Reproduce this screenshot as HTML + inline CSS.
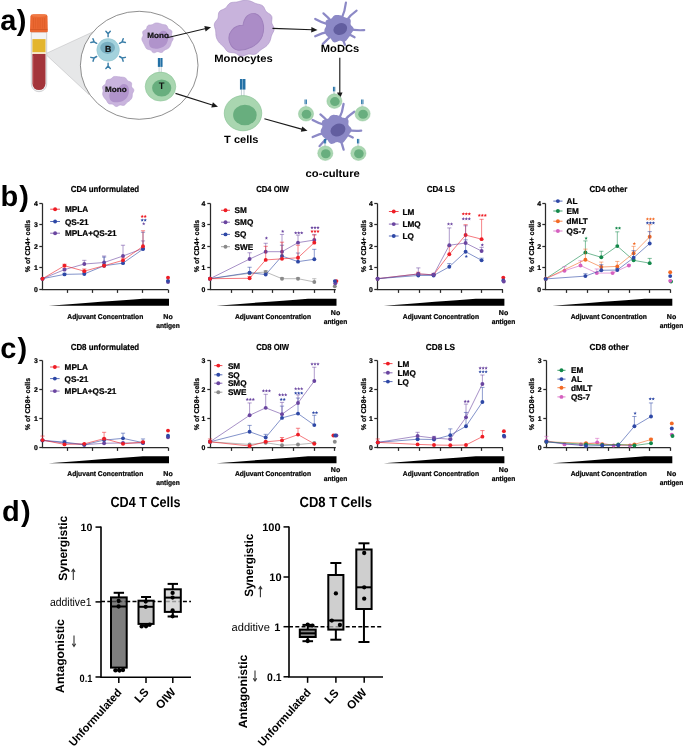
<!DOCTYPE html>
<html><head><meta charset="utf-8"><style>
html,body{margin:0;padding:0;background:#fff;}
svg{display:block;font-family:"Liberation Sans", sans-serif;text-rendering:geometricPrecision;will-change:transform;}
</style></head><body>
<svg width="685" height="746" viewBox="0 0 685 746">
<rect x="0" y="0" width="685" height="746" fill="#fff"/>
<text x="0.20" y="30.40" font-size="29" font-weight="bold" text-anchor="start" fill="#000" >a</text>
<text x="16.80" y="30.40" font-size="29" font-weight="bold" text-anchor="start" fill="#000" >)</text>
<text x="0.50" y="206.30" font-size="29" font-weight="bold" text-anchor="start" fill="#000" >b</text>
<text x="19.20" y="206.30" font-size="29" font-weight="bold" text-anchor="start" fill="#000" >)</text>
<text x="0.20" y="358.20" font-size="29" font-weight="bold" text-anchor="start" fill="#000" >c</text>
<text x="17.40" y="358.20" font-size="29" font-weight="bold" text-anchor="start" fill="#000" >)</text>
<text x="2.00" y="520.90" font-size="29" font-weight="bold" text-anchor="start" fill="#000" >d</text>
<text x="20.90" y="520.90" font-size="29" font-weight="bold" text-anchor="start" fill="#000" >)</text>
<path d="M94.6 31.1 L45.2 53.9 L88.8 94.4 Q78 62 94.6 31.1 Z" fill="#e6e7e8" stroke="#b8b9bb" stroke-width="0.5"/>
<path d="M31.3 32 V84 A7.7 7.7 0 0 0 46.7 84 V32 Z" fill="#f3f4f5" stroke="#c5c7c9" stroke-width="0.8"/>
<rect x="32.4" y="39.1" width="13.1" height="13.3" fill="#e3b52f"/>
<rect x="32.4" y="52.2" width="13.1" height="1.7" fill="#f6e4c4"/>
<path d="M32.4 53.9 V83.5 A6.55 6.55 0 0 0 45.5 83.5 V53.9 Z" fill="#a3343a"/>
<path d="M33.5 56 V84" stroke="#b9484d" stroke-width="0.8"/>
<path d="M30.4 16.4 Q30.6 14.4 33.0 14.3 H45.0 Q47.3 14.4 47.5 16.4 L47.8 31.2 Q47.8 32.3 46.5 32.3 H31.3 Q30.0 32.3 30.0 31.2 Z" fill="#ea6731"/>
<path d="M30.3 29.5 H47.5" stroke="#c9501f" stroke-width="0.6"/>
<path d="M33.5 18 V28.5" stroke="#d4541f" stroke-width="0.5" opacity="0.8"/>
<path d="M35.7 18 V28.5" stroke="#d4541f" stroke-width="0.5" opacity="0.8"/>
<path d="M37.9 18 V28.5" stroke="#d4541f" stroke-width="0.5" opacity="0.8"/>
<path d="M40.1 18 V28.5" stroke="#d4541f" stroke-width="0.5" opacity="0.8"/>
<path d="M42.3 18 V28.5" stroke="#d4541f" stroke-width="0.5" opacity="0.8"/>
<path d="M44.5 18 V28.5" stroke="#d4541f" stroke-width="0.5" opacity="0.8"/>
<ellipse cx="38.95" cy="15.6" rx="7.6" ry="1.3" fill="#f07a45"/>
<ellipse cx="139.2" cy="65.3" rx="58.8" ry="54.0" fill="#fff" stroke="#6a6a6a" stroke-width="0.75"/>
<g transform="translate(108.10 33.70) rotate(0)"><path d="M0 3.0 V0.0 M0 0.0 L-2.2 -2.5 M0 0.0 L2.2 -2.5" stroke="#3a7ea8" stroke-width="1.45" fill="none" stroke-linecap="round" stroke-linejoin="round"/></g>
<g transform="translate(122.13 41.80) rotate(60)"><path d="M0 3.0 V0.0 M0 0.0 L-2.2 -2.5 M0 0.0 L2.2 -2.5" stroke="#3a7ea8" stroke-width="1.45" fill="none" stroke-linecap="round" stroke-linejoin="round"/></g>
<g transform="translate(122.13 58.00) rotate(120)"><path d="M0 3.0 V0.0 M0 0.0 L-2.2 -2.5 M0 0.0 L2.2 -2.5" stroke="#3a7ea8" stroke-width="1.45" fill="none" stroke-linecap="round" stroke-linejoin="round"/></g>
<g transform="translate(108.10 66.10) rotate(180)"><path d="M0 3.0 V0.0 M0 0.0 L-2.2 -2.5 M0 0.0 L2.2 -2.5" stroke="#3a7ea8" stroke-width="1.45" fill="none" stroke-linecap="round" stroke-linejoin="round"/></g>
<g transform="translate(94.07 58.00) rotate(240)"><path d="M0 3.0 V0.0 M0 0.0 L-2.2 -2.5 M0 0.0 L2.2 -2.5" stroke="#3a7ea8" stroke-width="1.45" fill="none" stroke-linecap="round" stroke-linejoin="round"/></g>
<g transform="translate(94.07 41.80) rotate(300)"><path d="M0 3.0 V0.0 M0 0.0 L-2.2 -2.5 M0 0.0 L2.2 -2.5" stroke="#3a7ea8" stroke-width="1.45" fill="none" stroke-linecap="round" stroke-linejoin="round"/></g>
<circle cx="108.1" cy="49.9" r="11.3" fill="#a3d2dd" stroke="#8cc0cc" stroke-width="0.5"/>
<ellipse cx="107.6" cy="47.8" rx="7.4" ry="6.1" fill="#78aec0"/>
<text x="108.10" y="51.60" font-size="8.8" font-weight="bold" text-anchor="middle" fill="#111" stroke="#111" stroke-width="0.22" >B</text>
<path d="M173.02 37.80 L173.18 38.59 L173.06 39.38 L172.72 40.13 L172.28 40.84 L171.84 41.52 L171.49 42.20 L171.24 42.90 L171.03 43.63 L170.83 44.37 L170.57 45.10 L170.25 45.81 L169.86 46.49 L169.42 47.14 L168.91 47.75 L168.33 48.29 L167.66 48.74 L166.93 49.09 L166.16 49.38 L165.42 49.66 L164.75 50.02 L164.14 50.51 L163.57 51.10 L162.97 51.73 L162.29 52.25 L161.51 52.53 L160.66 52.53 L159.79 52.28 L158.95 51.94 L158.16 51.69 L157.40 51.65 L156.63 51.86 L155.82 52.23 L154.96 52.59 L154.09 52.75 L153.27 52.60 L152.55 52.14 L151.92 51.50 L151.36 50.82 L150.78 50.27 L150.12 49.90 L149.36 49.69 L148.52 49.53 L147.69 49.31 L146.94 48.95 L146.32 48.43 L145.85 47.79 L145.47 47.08 L145.13 46.35 L144.80 45.65 L144.45 44.98 L144.10 44.31 L143.74 43.64 L143.39 42.96 L143.04 42.28 L142.67 41.59 L142.31 40.88 L142.02 40.14 L141.85 39.37 L141.87 38.58 L142.09 37.80 L142.44 37.05 L142.79 36.33 L143.02 35.61 L143.05 34.87 L142.92 34.07 L142.72 33.22 L142.64 32.36 L142.81 31.57 L143.29 30.90 L144.02 30.39 L144.86 29.98 L145.63 29.59 L146.20 29.10 L146.58 28.44 L146.82 27.65 L147.07 26.79 L147.46 26.02 L148.05 25.44 L148.81 25.11 L149.69 24.98 L150.57 24.94 L151.40 24.86 L152.15 24.66 L152.84 24.33 L153.52 23.91 L154.23 23.49 L154.99 23.17 L155.78 22.99 L156.59 22.93 L157.40 22.98 L158.20 23.09 L158.99 23.25 L159.77 23.46 L160.52 23.71 L161.26 23.99 L161.99 24.25 L162.74 24.46 L163.52 24.59 L164.36 24.70 L165.20 24.84 L165.98 25.11 L166.65 25.58 L167.15 26.24 L167.51 27.02 L167.81 27.81 L168.17 28.49 L168.68 29.03 L169.39 29.44 L170.22 29.81 L171.02 30.25 L171.64 30.84 L171.95 31.58 L171.96 32.43 L171.78 33.32 L171.58 34.15 L171.54 34.91 L171.74 35.62 L172.15 36.31 L172.64 37.03 Z" fill="#c9b4dd" stroke="#b7a0d0" stroke-width="0.6"/>
<path d="M-0.95 0.35 C-1.0 -0.15 -0.55 -0.45 -0.1 -0.35 C0.05 -0.75 0.35 -0.95 0.65 -0.8 C1.0 -0.6 1.0 0.0 0.75 0.4 C0.45 0.85 -0.2 0.95 -0.6 0.85 C-0.85 0.75 -0.92 0.6 -0.95 0.35 Z" transform="translate(158.80 39.60) rotate(0) scale(10.300)" fill="#b093cb"/>
<text x="158.10" y="37.80" font-size="7.8" font-weight="bold" text-anchor="middle" fill="#111" textLength="21.60" lengthAdjust="spacingAndGlyphs" stroke="#111" stroke-width="0.22" >Mono</text>
<path d="M133.69 91.20 L133.32 91.98 L132.90 92.71 L132.56 93.43 L132.37 94.15 L132.30 94.91 L132.29 95.69 L132.23 96.48 L132.07 97.26 L131.79 97.99 L131.40 98.68 L130.93 99.32 L130.41 99.93 L129.84 100.48 L129.22 100.99 L128.57 101.44 L127.91 101.87 L127.28 102.32 L126.70 102.83 L126.17 103.42 L125.64 104.07 L125.06 104.68 L124.37 105.15 L123.57 105.39 L122.70 105.39 L121.81 105.22 L120.96 105.04 L120.18 104.99 L119.43 105.18 L118.69 105.58 L117.90 106.07 L117.07 106.45 L116.22 106.57 L115.40 106.35 L114.66 105.85 L113.99 105.22 L113.35 104.64 L112.68 104.25 L111.93 104.08 L111.08 104.05 L110.18 104.03 L109.32 103.89 L108.56 103.54 L107.96 102.98 L107.49 102.29 L107.10 101.56 L106.72 100.87 L106.29 100.23 L105.80 99.64 L105.28 99.07 L104.76 98.48 L104.27 97.86 L103.83 97.21 L103.43 96.53 L103.08 95.82 L102.81 95.08 L102.66 94.31 L102.66 93.52 L102.78 92.73 L102.97 91.95 L103.12 91.20 L103.14 90.46 L103.00 89.70 L102.75 88.90 L102.52 88.06 L102.46 87.23 L102.69 86.46 L103.22 85.79 L103.95 85.24 L104.70 84.74 L105.31 84.22 L105.70 83.60 L105.89 82.82 L105.99 81.94 L106.17 81.06 L106.55 80.31 L107.18 79.77 L108.00 79.47 L108.91 79.33 L109.79 79.21 L110.56 79.00 L111.23 78.62 L111.82 78.10 L112.43 77.52 L113.09 77.00 L113.83 76.62 L114.63 76.44 L115.46 76.41 L116.29 76.47 L117.10 76.57 L117.90 76.66 L118.69 76.75 L119.47 76.85 L120.25 76.95 L121.04 77.04 L121.83 77.12 L122.65 77.17 L123.48 77.25 L124.30 77.41 L125.06 77.71 L125.72 78.19 L126.27 78.83 L126.72 79.55 L127.16 80.22 L127.69 80.76 L128.36 81.16 L129.18 81.45 L130.05 81.76 L130.83 82.18 L131.39 82.79 L131.65 83.58 L131.66 84.47 L131.56 85.36 L131.53 86.18 L131.70 86.89 L132.13 87.54 L132.73 88.17 L133.32 88.85 L133.74 89.60 L133.86 90.40 Z" fill="#c9b4dd" stroke="#b7a0d0" stroke-width="0.6"/>
<path d="M-0.95 0.35 C-1.0 -0.15 -0.55 -0.45 -0.1 -0.35 C0.05 -0.75 0.35 -0.95 0.65 -0.8 C1.0 -0.6 1.0 0.0 0.75 0.4 C0.45 0.85 -0.2 0.95 -0.6 0.85 C-0.85 0.75 -0.92 0.6 -0.95 0.35 Z" transform="translate(119.30 93.00) rotate(0) scale(10.500)" fill="#b093cb"/>
<text x="115.80" y="92.00" font-size="7.8" font-weight="bold" text-anchor="middle" fill="#111" textLength="21.60" lengthAdjust="spacingAndGlyphs" stroke="#111" stroke-width="0.22" >Mono</text>
<path d="M159.10 73.10 V66.90 M161.30 73.10 V66.90" stroke="#8fa3ad" stroke-width="0.48" fill="none"/>
<rect x="157.85" y="58.00" width="2.20" height="8.90" fill="#2370a5"/>
<rect x="160.35" y="58.00" width="2.20" height="8.90" fill="#2370a5"/>
<ellipse cx="160.50" cy="86.60" rx="15.30" ry="14.50" fill="#a9d6b0" stroke="#86c193" stroke-width="0.54"/>
<ellipse cx="161.70" cy="88.00" rx="9.60" ry="8.60" fill="#68ae7e"/>
<text x="161.50" y="89.00" font-size="9.4" font-weight="bold" text-anchor="middle" fill="#111" >T</text>
<line x1="167.00" y1="37.80" x2="205.94" y2="28.51" stroke="#1a1a1a" stroke-width="1.15"/>
<path d="M211.00 27.30 L205.61 31.41 L204.33 26.06 Z" fill="#1a1a1a"/>
<line x1="175.50" y1="93.40" x2="213.04" y2="105.24" stroke="#1a1a1a" stroke-width="1.15"/>
<path d="M218.00 106.80 L211.26 107.56 L212.91 102.31 Z" fill="#1a1a1a"/>
<path d="M274.01 28.00 L274.11 29.48 L273.77 30.93 L273.13 32.31 L272.41 33.65 L271.78 34.96 L271.32 36.30 L270.98 37.68 L270.64 39.09 L270.21 40.48 L269.62 41.83 L268.88 43.10 L268.02 44.30 L267.03 45.43 L265.93 46.44 L264.72 47.35 L263.44 48.15 L262.15 48.91 L260.92 49.72 L259.78 50.66 L258.70 51.72 L257.57 52.80 L256.30 53.72 L254.86 54.29 L253.26 54.46 L251.62 54.32 L250.02 54.12 L248.51 54.11 L247.06 54.45 L245.61 55.09 L244.10 55.81 L242.52 56.27 L240.94 56.25 L239.42 55.71 L238.03 54.81 L236.71 53.87 L235.39 53.15 L233.96 52.78 L232.39 52.67 L230.75 52.59 L229.15 52.30 L227.73 51.65 L226.56 50.65 L225.60 49.43 L224.74 48.18 L223.84 47.01 L222.83 45.97 L221.72 45.00 L220.59 44.02 L219.53 42.97 L218.58 41.83 L217.77 40.59 L217.09 39.28 L216.55 37.92 L216.16 36.52 L215.93 35.08 L215.84 33.64 L215.78 32.21 L215.64 30.81 L215.34 29.41 L214.91 28.00 L214.47 26.54 L214.26 25.06 L214.46 23.59 L215.10 22.22 L216.05 20.95 L217.04 19.75 L217.80 18.53 L218.21 17.18 L218.34 15.68 L218.44 14.10 L218.80 12.58 L219.61 11.30 L220.87 10.35 L222.39 9.66 L223.92 9.06 L225.24 8.35 L226.30 7.37 L227.18 6.15 L228.08 4.85 L229.15 3.70 L230.46 2.87 L231.97 2.42 L233.57 2.25 L235.16 2.17 L236.68 2.03 L238.15 1.73 L239.60 1.31 L241.06 0.89 L242.57 0.54 L244.10 0.35 L245.65 0.31 L247.19 0.41 L248.72 0.65 L250.21 1.04 L251.65 1.57 L253.03 2.21 L254.38 2.88 L255.74 3.47 L257.17 3.92 L258.70 4.28 L260.26 4.65 L261.73 5.23 L262.99 6.11 L263.94 7.32 L264.64 8.73 L265.25 10.13 L265.99 11.36 L267.03 12.37 L268.35 13.22 L269.76 14.10 L270.98 15.15 L271.76 16.45 L272.01 17.95 L271.88 19.53 L271.67 21.07 L271.67 22.50 L272.04 23.85 L272.72 25.18 L273.48 26.56 Z" fill="#c8b3dc" stroke="#a88ec4" stroke-width="0.6"/>
<path d="M-0.95 0.35 C-1.0 -0.15 -0.55 -0.45 -0.1 -0.35 C0.05 -0.75 0.35 -0.95 0.65 -0.8 C1.0 -0.6 1.0 0.0 0.75 0.4 C0.45 0.85 -0.2 0.95 -0.6 0.85 C-0.85 0.75 -0.92 0.6 -0.95 0.35 Z" transform="translate(246.30 31.60) rotate(-12) scale(19.500)" fill="#ab8cc7" stroke="#9f80bc" stroke-width="0.05"/>
<text x="243.50" y="61.80" font-size="10.6" font-weight="bold" text-anchor="middle" fill="#000" textLength="58.60" lengthAdjust="spacingAndGlyphs" >Monocytes</text>
<line x1="272.50" y1="28.40" x2="312.30" y2="29.73" stroke="#1a1a1a" stroke-width="1.15"/>
<path d="M317.50 29.90 L311.21 32.44 L311.40 26.94 Z" fill="#1a1a1a"/>
<path d="M341.32 19.16 Q345.06 11.27 345.92 2.58" stroke="#8c89c6" stroke-width="2.2" stroke-linecap="round" fill="none"/>
<path d="M345.63 21.67 Q350.05 15.13 356.59 10.71" stroke="#8c89c6" stroke-width="2.2" stroke-linecap="round" fill="none"/>
<path d="M348.48 29.18 Q356.31 30.65 364.25 30.12" stroke="#8c89c6" stroke-width="2.2" stroke-linecap="round" fill="none"/>
<path d="M347.30 33.31 Q350.94 35.30 354.58 37.29" stroke="#8c89c6" stroke-width="2.2" stroke-linecap="round" fill="none"/>
<path d="M342.21 37.75 Q343.59 41.34 344.97 44.94" stroke="#8c89c6" stroke-width="2.2" stroke-linecap="round" fill="none"/>
<path d="M331.65 35.41 Q327.26 39.65 322.87 43.88" stroke="#8c89c6" stroke-width="2.2" stroke-linecap="round" fill="none"/>
<path d="M329.38 31.63 Q321.99 32.98 315.21 36.23" stroke="#8c89c6" stroke-width="2.2" stroke-linecap="round" fill="none"/>
<path d="M329.64 24.87 Q322.05 22.82 315.22 18.92" stroke="#8c89c6" stroke-width="2.2" stroke-linecap="round" fill="none"/>
<path d="M331.77 21.67 Q327.95 17.14 323.43 13.33" stroke="#8c89c6" stroke-width="2.2" stroke-linecap="round" fill="none"/>
<path d="M353.62 28.60 L353.66 29.34 L353.49 30.08 L353.16 30.78 L352.74 31.43 L352.28 32.06 L351.84 32.66 L351.45 33.25 L351.09 33.84 L350.76 34.44 L350.44 35.04 L350.09 35.63 L349.71 36.20 L349.29 36.75 L348.86 37.29 L348.43 37.84 L347.99 38.41 L347.57 39.00 L347.12 39.61 L346.64 40.22 L346.09 40.77 L345.46 41.21 L344.74 41.49 L343.95 41.60 L343.13 41.54 L342.29 41.34 L341.49 41.08 L340.74 40.85 L340.04 40.71 L339.37 40.73 L338.70 40.93 L338.00 41.27 L337.25 41.68 L336.45 42.08 L335.62 42.37 L334.79 42.46 L334.00 42.33 L333.30 41.97 L332.69 41.43 L332.17 40.77 L331.73 40.07 L331.31 39.41 L330.88 38.82 L330.40 38.33 L329.86 37.92 L329.27 37.56 L328.64 37.20 L328.02 36.82 L327.42 36.38 L326.89 35.89 L326.41 35.34 L325.99 34.75 L325.62 34.13 L325.27 33.50 L324.95 32.84 L324.68 32.17 L324.47 31.47 L324.38 30.76 L324.41 30.03 L324.58 29.30 L324.86 28.60 L325.21 27.93 L325.56 27.29 L325.85 26.67 L326.02 26.04 L326.05 25.38 L325.94 24.66 L325.76 23.88 L325.59 23.05 L325.50 22.21 L325.60 21.41 L325.90 20.71 L326.44 20.13 L327.15 19.72 L327.99 19.44 L328.87 19.26 L329.72 19.12 L330.47 18.95 L331.11 18.68 L331.66 18.30 L332.13 17.79 L332.59 17.21 L333.08 16.60 L333.62 16.03 L334.24 15.55 L334.92 15.20 L335.66 14.99 L336.42 14.90 L337.18 14.90 L337.95 14.96 L338.70 15.05 L339.44 15.16 L340.17 15.30 L340.89 15.48 L341.58 15.71 L342.25 16.00 L342.89 16.34 L343.51 16.71 L344.11 17.06 L344.73 17.36 L345.39 17.60 L346.11 17.77 L346.89 17.89 L347.72 18.02 L348.55 18.21 L349.31 18.52 L349.96 18.97 L350.43 19.58 L350.69 20.32 L350.78 21.15 L350.73 22.00 L350.63 22.82 L350.57 23.58 L350.63 24.25 L350.85 24.85 L351.25 25.40 L351.79 25.96 L352.38 26.54 L352.94 27.18 L353.37 27.87 Z" fill="#8c89c6"/>
<ellipse cx="340.30" cy="29.10" rx="7.10" ry="5.70" transform="rotate(-25 340.30 29.10)" fill="#625e9f"/>
<text x="340.00" y="52.00" font-size="10.6" font-weight="bold" text-anchor="middle" fill="#000" textLength="38.40" lengthAdjust="spacingAndGlyphs" >MoDCs</text>
<line x1="339.80" y1="57.80" x2="339.80" y2="93.60" stroke="#1a1a1a" stroke-width="1.15"/>
<path d="M339.80 98.80 L337.05 92.60 L342.55 92.60 Z" fill="#1a1a1a"/>
<path d="M241.40 96.60 V89.60 M244.00 96.60 V89.60" stroke="#8fa3ad" stroke-width="0.57" fill="none"/>
<rect x="239.95" y="79.00" width="2.60" height="10.60" fill="#2370a5"/>
<rect x="242.85" y="79.00" width="2.60" height="10.60" fill="#2370a5"/>
<ellipse cx="243.00" cy="113.20" rx="18.75" ry="17.60" fill="#a9d6b0" stroke="#86c193" stroke-width="0.66"/>
<ellipse cx="244.90" cy="115.00" rx="11.80" ry="10.30" fill="#68ae7e"/>
<text x="241.30" y="143.30" font-size="10.6" font-weight="bold" text-anchor="middle" fill="#000" textLength="34.40" lengthAdjust="spacingAndGlyphs" >T cells</text>
<line x1="264.40" y1="118.80" x2="302.49" y2="129.41" stroke="#1a1a1a" stroke-width="1.15"/>
<path d="M307.50 130.80 L300.79 131.79 L302.26 126.49 Z" fill="#1a1a1a"/>
<path d="M338.83 119.39 Q342.64 112.07 343.58 103.86" stroke="#8c89c6" stroke-width="2.3" stroke-linecap="round" fill="none"/>
<path d="M343.29 122.14 Q347.73 115.83 354.24 111.68" stroke="#8c89c6" stroke-width="2.3" stroke-linecap="round" fill="none"/>
<path d="M346.15 129.84 Q353.60 131.23 361.17 130.63" stroke="#8c89c6" stroke-width="2.3" stroke-linecap="round" fill="none"/>
<path d="M345.11 133.84 Q348.95 135.71 352.79 137.59" stroke="#8c89c6" stroke-width="2.3" stroke-linecap="round" fill="none"/>
<path d="M339.51 138.97 Q342.50 143.95 343.61 149.65" stroke="#8c89c6" stroke-width="2.3" stroke-linecap="round" fill="none"/>
<path d="M328.60 136.75 Q323.71 141.10 319.54 146.13" stroke="#8c89c6" stroke-width="2.3" stroke-linecap="round" fill="none"/>
<path d="M325.97 132.57 Q318.99 133.84 312.65 137.00" stroke="#8c89c6" stroke-width="2.3" stroke-linecap="round" fill="none"/>
<path d="M326.19 125.42 Q319.03 123.60 312.62 119.93" stroke="#8c89c6" stroke-width="2.3" stroke-linecap="round" fill="none"/>
<path d="M328.35 122.10 Q324.72 117.91 320.41 114.43" stroke="#8c89c6" stroke-width="2.3" stroke-linecap="round" fill="none"/>
<path d="M351.58 129.30 L351.61 130.09 L351.44 130.86 L351.09 131.60 L350.64 132.30 L350.16 132.96 L349.69 133.59 L349.27 134.21 L348.90 134.84 L348.55 135.47 L348.21 136.11 L347.84 136.73 L347.43 137.33 L347.00 137.91 L346.54 138.49 L346.08 139.07 L345.63 139.67 L345.17 140.30 L344.71 140.94 L344.20 141.58 L343.62 142.16 L342.95 142.63 L342.19 142.93 L341.35 143.05 L340.48 142.98 L339.60 142.77 L338.75 142.50 L337.96 142.25 L337.22 142.10 L336.51 142.13 L335.80 142.33 L335.06 142.69 L334.27 143.13 L333.42 143.55 L332.54 143.85 L331.67 143.95 L330.84 143.82 L330.09 143.44 L329.44 142.86 L328.90 142.16 L328.43 141.43 L327.99 140.73 L327.53 140.11 L327.03 139.59 L326.46 139.16 L325.83 138.77 L325.17 138.40 L324.51 137.99 L323.88 137.53 L323.31 137.00 L322.81 136.42 L322.37 135.80 L321.97 135.15 L321.60 134.48 L321.27 133.79 L320.98 133.07 L320.76 132.34 L320.66 131.58 L320.69 130.81 L320.87 130.04 L321.17 129.30 L321.54 128.59 L321.91 127.91 L322.22 127.26 L322.40 126.59 L322.42 125.89 L322.31 125.14 L322.12 124.31 L321.94 123.44 L321.85 122.55 L321.95 121.70 L322.27 120.95 L322.83 120.35 L323.59 119.91 L324.48 119.62 L325.41 119.43 L326.30 119.28 L327.10 119.10 L327.78 118.81 L328.35 118.41 L328.86 117.88 L329.34 117.26 L329.85 116.61 L330.43 116.01 L331.08 115.51 L331.81 115.14 L332.58 114.91 L333.39 114.82 L334.20 114.82 L335.00 114.88 L335.80 114.98 L336.58 115.10 L337.36 115.24 L338.11 115.43 L338.85 115.67 L339.56 115.98 L340.23 116.34 L340.88 116.73 L341.52 117.10 L342.17 117.42 L342.87 117.67 L343.63 117.85 L344.46 117.98 L345.33 118.12 L346.21 118.32 L347.02 118.64 L347.70 119.12 L348.20 119.76 L348.48 120.55 L348.57 121.42 L348.52 122.32 L348.41 123.19 L348.35 123.99 L348.41 124.70 L348.65 125.33 L349.07 125.92 L349.63 126.51 L350.26 127.12 L350.85 127.80 L351.31 128.53 Z" fill="#8c89c6"/>
<ellipse cx="338.00" cy="130.00" rx="7.70" ry="6.20" transform="rotate(-25 338.00 130.00)" fill="#625e9f"/>
<path d="M333.60 94.80 V91.40 M334.60 94.80 V91.40" stroke="#8fa3ad" stroke-width="0.35" fill="none"/>
<rect x="332.95" y="86.80" width="1.00" height="4.60" fill="#2370a5"/>
<rect x="334.25" y="86.80" width="1.00" height="4.60" fill="#2370a5"/>
<ellipse cx="334.40" cy="101.10" rx="7.60" ry="7.30" fill="#a9d6b0" stroke="#86c193" stroke-width="0.40"/>
<ellipse cx="334.90" cy="101.60" rx="4.80" ry="4.50" fill="#68ae7e"/>
<path d="M305.20 107.50 V104.10 M306.20 107.50 V104.10" stroke="#8fa3ad" stroke-width="0.35" fill="none"/>
<rect x="304.55" y="99.50" width="1.00" height="4.60" fill="#2370a5"/>
<rect x="305.85" y="99.50" width="1.00" height="4.60" fill="#2370a5"/>
<ellipse cx="306.00" cy="113.80" rx="7.60" ry="7.30" fill="#a9d6b0" stroke="#86c193" stroke-width="0.40"/>
<ellipse cx="306.50" cy="114.30" rx="4.80" ry="4.50" fill="#68ae7e"/>
<path d="M361.80 107.50 V104.10 M362.80 107.50 V104.10" stroke="#8fa3ad" stroke-width="0.35" fill="none"/>
<rect x="361.15" y="99.50" width="1.00" height="4.60" fill="#2370a5"/>
<rect x="362.45" y="99.50" width="1.00" height="4.60" fill="#2370a5"/>
<ellipse cx="362.60" cy="113.80" rx="7.60" ry="7.30" fill="#a9d6b0" stroke="#86c193" stroke-width="0.40"/>
<ellipse cx="363.10" cy="114.30" rx="4.80" ry="4.50" fill="#68ae7e"/>
<path d="M324.50 146.90 V143.50 M325.50 146.90 V143.50" stroke="#8fa3ad" stroke-width="0.35" fill="none"/>
<rect x="323.85" y="138.90" width="1.00" height="4.60" fill="#2370a5"/>
<rect x="325.15" y="138.90" width="1.00" height="4.60" fill="#2370a5"/>
<ellipse cx="325.30" cy="153.20" rx="7.60" ry="7.30" fill="#a9d6b0" stroke="#86c193" stroke-width="0.40"/>
<ellipse cx="325.80" cy="153.70" rx="4.80" ry="4.50" fill="#68ae7e"/>
<path d="M357.60 146.90 V143.50 M358.60 146.90 V143.50" stroke="#8fa3ad" stroke-width="0.35" fill="none"/>
<rect x="356.95" y="138.90" width="1.00" height="4.60" fill="#2370a5"/>
<rect x="358.25" y="138.90" width="1.00" height="4.60" fill="#2370a5"/>
<ellipse cx="358.40" cy="153.20" rx="7.60" ry="7.30" fill="#a9d6b0" stroke="#86c193" stroke-width="0.40"/>
<ellipse cx="358.90" cy="153.70" rx="4.80" ry="4.50" fill="#68ae7e"/>
<text x="332.70" y="177.30" font-size="10.6" font-weight="bold" text-anchor="middle" fill="#000" textLength="54.20" lengthAdjust="spacingAndGlyphs" >co-culture</text>
<text x="104.95" y="191.60" font-size="8.7" font-weight="bold" text-anchor="middle" fill="#000" textLength="68.50" lengthAdjust="spacingAndGlyphs" stroke="#000" stroke-width="0.22" >CD4 unformulated</text>
<text x="30.20" y="246.00" font-size="7.0" font-weight="bold" text-anchor="middle" fill="#000" textLength="52.30" lengthAdjust="spacingAndGlyphs" stroke="#000" stroke-width="0.22" transform="rotate(-90 30.20 246.00)" >% of CD4+ cells</text>
<path d="M42.50 203.50 V289.50 H168.00" fill="none" stroke="#2a2a2a" stroke-width="1.25"/>
<line x1="39.30" y1="289.50" x2="42.50" y2="289.50" stroke="#2a2a2a" stroke-width="1.25"/>
<text x="37.80" y="292.00" font-size="6.9" font-weight="bold" text-anchor="end" fill="#000" stroke="#000" stroke-width="0.22" >0</text>
<line x1="39.30" y1="267.50" x2="42.50" y2="267.50" stroke="#2a2a2a" stroke-width="1.25"/>
<text x="37.80" y="270.40" font-size="6.9" font-weight="bold" text-anchor="end" fill="#000" stroke="#000" stroke-width="0.22" >1</text>
<line x1="39.30" y1="246.50" x2="42.50" y2="246.50" stroke="#2a2a2a" stroke-width="1.25"/>
<text x="37.80" y="248.80" font-size="6.9" font-weight="bold" text-anchor="end" fill="#000" stroke="#000" stroke-width="0.22" >2</text>
<line x1="39.30" y1="224.50" x2="42.50" y2="224.50" stroke="#2a2a2a" stroke-width="1.25"/>
<text x="37.80" y="227.20" font-size="6.9" font-weight="bold" text-anchor="end" fill="#000" stroke="#000" stroke-width="0.22" >3</text>
<line x1="39.30" y1="203.50" x2="42.50" y2="203.50" stroke="#2a2a2a" stroke-width="1.25"/>
<text x="37.80" y="205.60" font-size="6.9" font-weight="bold" text-anchor="end" fill="#000" stroke="#000" stroke-width="0.22" >4</text>
<line x1="67.50" y1="289.50" x2="67.50" y2="292.90" stroke="#2a2a2a" stroke-width="1.25"/>
<line x1="92.50" y1="289.50" x2="92.50" y2="292.90" stroke="#2a2a2a" stroke-width="1.25"/>
<line x1="117.50" y1="289.50" x2="117.50" y2="292.90" stroke="#2a2a2a" stroke-width="1.25"/>
<line x1="142.50" y1="289.50" x2="142.50" y2="292.90" stroke="#2a2a2a" stroke-width="1.25"/>
<line x1="168.50" y1="289.50" x2="168.50" y2="292.90" stroke="#2a2a2a" stroke-width="1.25"/>
<path d="M48.70 305.70 Q105.75 301.50 142.80 298.80 H169.00 V305.70 Z" fill="#000"/>
<text x="105.30" y="318.70" font-size="7.0" font-weight="bold" text-anchor="middle" fill="#000" textLength="76.00" lengthAdjust="spacingAndGlyphs" stroke="#000" stroke-width="0.22" >Adjuvant Concentration</text>
<text x="168.00" y="318.80" font-size="7.0" font-weight="bold" text-anchor="middle" fill="#000" textLength="9.40" lengthAdjust="spacingAndGlyphs" stroke="#000" stroke-width="0.22" >No</text>
<text x="168.00" y="327.80" font-size="7.0" font-weight="bold" text-anchor="middle" fill="#000" textLength="23.50" lengthAdjust="spacingAndGlyphs" stroke="#000" stroke-width="0.22" >antigen</text>
<path d="M64.50 269.63 V268.55 M62.40 268.55 H66.60" stroke="#6a45a0" stroke-width="0.6" fill="none" opacity="0.9"/>
<path d="M84.30 264.01 V260.34 M82.20 260.34 H86.40" stroke="#6a45a0" stroke-width="0.6" fill="none" opacity="0.9"/>
<path d="M104.10 262.50 V256.02 M102.00 256.02 H106.20" stroke="#6a45a0" stroke-width="0.6" fill="none" opacity="0.9"/>
<path d="M123.00 256.02 V245.22 M120.90 245.22 H125.10" stroke="#6a45a0" stroke-width="0.6" fill="none" opacity="0.9"/>
<path d="M143.00 248.46 V240.90 M140.90 240.90 H145.10" stroke="#6a45a0" stroke-width="0.6" fill="none" opacity="0.9"/>
<polyline points="42.50,278.70 64.50,269.63 84.30,264.01 104.10,262.50 123.00,256.02 143.00,248.46" fill="none" stroke="#6a45a0" stroke-width="0.7" opacity="0.85"/>
<circle cx="42.50" cy="278.70" r="1.95" fill="#6a45a0"/>
<circle cx="64.50" cy="269.63" r="1.95" fill="#6a45a0"/>
<circle cx="84.30" cy="264.01" r="1.95" fill="#6a45a0"/>
<circle cx="104.10" cy="262.50" r="1.95" fill="#6a45a0"/>
<circle cx="123.00" cy="256.02" r="1.95" fill="#6a45a0"/>
<circle cx="143.00" cy="248.46" r="1.95" fill="#6a45a0"/>
<path d="M64.50 274.38 V273.30 M62.40 273.30 H66.60" stroke="#2e48a6" stroke-width="0.6" fill="none" opacity="0.9"/>
<path d="M84.30 273.95 V272.87 M82.20 272.87 H86.40" stroke="#2e48a6" stroke-width="0.6" fill="none" opacity="0.9"/>
<path d="M104.10 265.74 V257.10 M102.00 257.10 H106.20" stroke="#2e48a6" stroke-width="0.6" fill="none" opacity="0.9"/>
<path d="M123.00 263.15 V261.42 M120.90 261.42 H125.10" stroke="#2e48a6" stroke-width="0.6" fill="none" opacity="0.9"/>
<path d="M143.00 249.11 V232.26 M140.90 232.26 H145.10" stroke="#2e48a6" stroke-width="0.6" fill="none" opacity="0.9"/>
<polyline points="42.50,278.70 64.50,274.38 84.30,273.95 104.10,265.74 123.00,263.15 143.00,249.11" fill="none" stroke="#2e48a6" stroke-width="0.7" opacity="0.85"/>
<circle cx="42.50" cy="278.70" r="1.95" fill="#2e48a6"/>
<circle cx="64.50" cy="274.38" r="1.95" fill="#2e48a6"/>
<circle cx="84.30" cy="273.95" r="1.95" fill="#2e48a6"/>
<circle cx="104.10" cy="265.74" r="1.95" fill="#2e48a6"/>
<circle cx="123.00" cy="263.15" r="1.95" fill="#2e48a6"/>
<circle cx="143.00" cy="249.11" r="1.95" fill="#2e48a6"/>
<path d="M64.50 265.74 V264.23 M62.40 264.23 H66.60" stroke="#ee1d25" stroke-width="0.6" fill="none" opacity="0.9"/>
<path d="M84.30 271.14 V268.98 M82.20 268.98 H86.40" stroke="#ee1d25" stroke-width="0.6" fill="none" opacity="0.9"/>
<path d="M104.10 265.74 V264.66 M102.00 264.66 H106.20" stroke="#ee1d25" stroke-width="0.6" fill="none" opacity="0.9"/>
<path d="M123.00 260.34 V258.18 M120.90 258.18 H125.10" stroke="#ee1d25" stroke-width="0.6" fill="none" opacity="0.9"/>
<path d="M143.00 246.30 V230.75 M140.90 230.75 H145.10" stroke="#ee1d25" stroke-width="0.6" fill="none" opacity="0.9"/>
<polyline points="42.50,278.70 64.50,265.74 84.30,271.14 104.10,265.74 123.00,260.34 143.00,246.30" fill="none" stroke="#ee1d25" stroke-width="0.7" opacity="0.85"/>
<circle cx="42.50" cy="278.70" r="1.95" fill="#ee1d25"/>
<circle cx="64.50" cy="265.74" r="1.95" fill="#ee1d25"/>
<circle cx="84.30" cy="271.14" r="1.95" fill="#ee1d25"/>
<circle cx="104.10" cy="265.74" r="1.95" fill="#ee1d25"/>
<circle cx="123.00" cy="260.34" r="1.95" fill="#ee1d25"/>
<circle cx="143.00" cy="246.30" r="1.95" fill="#ee1d25"/>
<circle cx="168.00" cy="281.94" r="1.95" fill="#6a45a0"/>
<circle cx="168.00" cy="280.86" r="1.95" fill="#2e48a6"/>
<circle cx="168.00" cy="277.62" r="1.95" fill="#ee1d25"/>
<polygon points="142.20,214.74 142.66,215.85 143.86,215.95 142.95,216.74 143.23,217.91 142.20,217.28 141.17,217.91 141.45,216.74 140.54,215.95 141.74,215.85" fill="#ee1d25"/>
<polygon points="145.20,214.74 145.66,215.85 146.86,215.95 145.95,216.74 146.23,217.91 145.20,217.28 144.17,217.91 144.45,216.74 143.54,215.95 144.74,215.85" fill="#ee1d25"/>
<polygon points="142.20,218.41 142.66,219.53 143.86,219.62 142.95,220.41 143.23,221.58 142.20,220.95 141.17,221.58 141.45,220.41 140.54,219.62 141.74,219.53" fill="#2e48a6"/>
<polygon points="145.20,218.41 145.66,219.53 146.86,219.62 145.95,220.41 146.23,221.58 145.20,220.95 144.17,221.58 144.45,220.41 143.54,219.62 144.74,219.53" fill="#2e48a6"/>
<polygon points="143.70,222.09 144.16,223.20 145.36,223.30 144.45,224.08 144.73,225.25 143.70,224.62 142.67,225.25 142.95,224.08 142.04,223.30 143.24,223.20" fill="#6a45a0"/>
<line x1="50.20" y1="209.20" x2="60.00" y2="209.20" stroke="#ee1d25" stroke-width="0.8"/>
<circle cx="55.10" cy="209.20" r="1.95" fill="#ee1d25"/>
<text x="65.00" y="212.20" font-size="8.2" font-weight="bold" text-anchor="start" fill="#000" stroke="#000" stroke-width="0.22" >MPLA</text>
<line x1="50.20" y1="221.50" x2="60.00" y2="221.50" stroke="#2e48a6" stroke-width="0.8"/>
<circle cx="55.10" cy="221.50" r="1.95" fill="#2e48a6"/>
<text x="65.00" y="224.50" font-size="8.2" font-weight="bold" text-anchor="start" fill="#000" stroke="#000" stroke-width="0.22" >QS-21</text>
<line x1="50.20" y1="233.20" x2="60.00" y2="233.20" stroke="#6a45a0" stroke-width="0.8"/>
<circle cx="55.10" cy="233.20" r="1.95" fill="#6a45a0"/>
<text x="65.00" y="236.20" font-size="8.2" font-weight="bold" text-anchor="start" fill="#000" stroke="#000" stroke-width="0.22" >MPLA+QS-21</text>
<text x="272.60" y="191.60" font-size="8.7" font-weight="bold" text-anchor="middle" fill="#000" textLength="32.80" lengthAdjust="spacingAndGlyphs" stroke="#000" stroke-width="0.22" >CD4 OIW</text>
<text x="198.60" y="246.00" font-size="7.0" font-weight="bold" text-anchor="middle" fill="#000" textLength="52.30" lengthAdjust="spacingAndGlyphs" stroke="#000" stroke-width="0.22" transform="rotate(-90 198.60 246.00)" >% of CD4+ cells</text>
<path d="M210.50 203.50 V289.50 H335.80" fill="none" stroke="#2a2a2a" stroke-width="1.25"/>
<line x1="207.30" y1="289.50" x2="210.50" y2="289.50" stroke="#2a2a2a" stroke-width="1.25"/>
<text x="205.30" y="292.00" font-size="6.9" font-weight="bold" text-anchor="end" fill="#000" stroke="#000" stroke-width="0.22" >0</text>
<line x1="207.30" y1="267.50" x2="210.50" y2="267.50" stroke="#2a2a2a" stroke-width="1.25"/>
<text x="205.30" y="270.40" font-size="6.9" font-weight="bold" text-anchor="end" fill="#000" stroke="#000" stroke-width="0.22" >1</text>
<line x1="207.30" y1="246.50" x2="210.50" y2="246.50" stroke="#2a2a2a" stroke-width="1.25"/>
<text x="205.30" y="248.80" font-size="6.9" font-weight="bold" text-anchor="end" fill="#000" stroke="#000" stroke-width="0.22" >2</text>
<line x1="207.30" y1="224.50" x2="210.50" y2="224.50" stroke="#2a2a2a" stroke-width="1.25"/>
<text x="205.30" y="227.20" font-size="6.9" font-weight="bold" text-anchor="end" fill="#000" stroke="#000" stroke-width="0.22" >3</text>
<line x1="207.30" y1="203.50" x2="210.50" y2="203.50" stroke="#2a2a2a" stroke-width="1.25"/>
<text x="205.30" y="205.60" font-size="6.9" font-weight="bold" text-anchor="end" fill="#000" stroke="#000" stroke-width="0.22" >4</text>
<line x1="231.50" y1="289.50" x2="231.50" y2="292.90" stroke="#2a2a2a" stroke-width="1.25"/>
<line x1="252.50" y1="289.50" x2="252.50" y2="292.90" stroke="#2a2a2a" stroke-width="1.25"/>
<line x1="272.50" y1="289.50" x2="272.50" y2="292.90" stroke="#2a2a2a" stroke-width="1.25"/>
<line x1="293.50" y1="289.50" x2="293.50" y2="292.90" stroke="#2a2a2a" stroke-width="1.25"/>
<line x1="314.50" y1="289.50" x2="314.50" y2="292.90" stroke="#2a2a2a" stroke-width="1.25"/>
<line x1="334.50" y1="289.50" x2="334.50" y2="292.90" stroke="#2a2a2a" stroke-width="1.25"/>
<path d="M216.50 305.70 Q272.25 301.50 308.00 298.80 H336.50 V305.70 Z" fill="#000"/>
<text x="273.00" y="318.70" font-size="7.0" font-weight="bold" text-anchor="middle" fill="#000" textLength="76.20" lengthAdjust="spacingAndGlyphs" stroke="#000" stroke-width="0.22" >Adjuvant Concentration</text>
<text x="335.50" y="314.50" font-size="7.0" font-weight="bold" text-anchor="middle" fill="#000" textLength="9.40" lengthAdjust="spacingAndGlyphs" stroke="#000" stroke-width="0.22" >No</text>
<text x="335.50" y="323.50" font-size="7.0" font-weight="bold" text-anchor="middle" fill="#000" textLength="23.50" lengthAdjust="spacingAndGlyphs" stroke="#000" stroke-width="0.22" >antigen</text>
<path d="M249.60 273.30 V272.22 M247.50 272.22 H251.70" stroke="#8a8a8a" stroke-width="0.6" fill="none" opacity="0.9"/>
<path d="M265.70 272.00 V270.49 M263.60 270.49 H267.80" stroke="#8a8a8a" stroke-width="0.6" fill="none" opacity="0.9"/>
<path d="M282.00 278.70 V277.62 M279.90 277.62 H284.10" stroke="#8a8a8a" stroke-width="0.6" fill="none" opacity="0.9"/>
<path d="M298.00 278.70 V277.62 M295.90 277.62 H300.10" stroke="#8a8a8a" stroke-width="0.6" fill="none" opacity="0.9"/>
<path d="M314.30 281.94 V278.70 M312.20 278.70 H316.40" stroke="#8a8a8a" stroke-width="0.6" fill="none" opacity="0.9"/>
<polyline points="210.00,278.70 249.60,273.30 265.70,272.00 282.00,278.70 298.00,278.70 314.30,281.94" fill="none" stroke="#8a8a8a" stroke-width="0.7" opacity="0.85"/>
<circle cx="210.00" cy="278.70" r="1.95" fill="#8a8a8a"/>
<circle cx="249.60" cy="273.30" r="1.95" fill="#8a8a8a"/>
<circle cx="265.70" cy="272.00" r="1.95" fill="#8a8a8a"/>
<circle cx="282.00" cy="278.70" r="1.95" fill="#8a8a8a"/>
<circle cx="298.00" cy="278.70" r="1.95" fill="#8a8a8a"/>
<circle cx="314.30" cy="281.94" r="1.95" fill="#8a8a8a"/>
<path d="M249.60 272.65 V267.25 M247.50 267.25 H251.70" stroke="#2e48a6" stroke-width="0.6" fill="none" opacity="0.9"/>
<path d="M265.70 274.60 V273.30 M263.60 273.30 H267.80" stroke="#2e48a6" stroke-width="0.6" fill="none" opacity="0.9"/>
<path d="M282.00 256.02 V245.22 M279.90 245.22 H284.10" stroke="#2e48a6" stroke-width="0.6" fill="none" opacity="0.9"/>
<path d="M298.00 261.64 V253.00 M295.90 253.00 H300.10" stroke="#2e48a6" stroke-width="0.6" fill="none" opacity="0.9"/>
<path d="M314.30 259.26 V249.32 M312.20 249.32 H316.40" stroke="#2e48a6" stroke-width="0.6" fill="none" opacity="0.9"/>
<polyline points="210.00,278.70 249.60,272.65 265.70,274.60 282.00,256.02 298.00,261.64 314.30,259.26" fill="none" stroke="#2e48a6" stroke-width="0.7" opacity="0.85"/>
<circle cx="210.00" cy="278.70" r="1.95" fill="#2e48a6"/>
<circle cx="249.60" cy="272.65" r="1.95" fill="#2e48a6"/>
<circle cx="265.70" cy="274.60" r="1.95" fill="#2e48a6"/>
<circle cx="282.00" cy="256.02" r="1.95" fill="#2e48a6"/>
<circle cx="298.00" cy="261.64" r="1.95" fill="#2e48a6"/>
<circle cx="314.30" cy="259.26" r="1.95" fill="#2e48a6"/>
<path d="M249.60 259.04 V252.78 M247.50 252.78 H251.70" stroke="#6a45a0" stroke-width="0.6" fill="none" opacity="0.9"/>
<path d="M265.70 251.70 V243.28 M263.60 243.28 H267.80" stroke="#6a45a0" stroke-width="0.6" fill="none" opacity="0.9"/>
<path d="M282.00 251.70 V234.42 M279.90 234.42 H284.10" stroke="#6a45a0" stroke-width="0.6" fill="none" opacity="0.9"/>
<path d="M298.00 242.63 V235.07 M295.90 235.07 H300.10" stroke="#6a45a0" stroke-width="0.6" fill="none" opacity="0.9"/>
<path d="M314.30 240.04 V234.42 M312.20 234.42 H316.40" stroke="#6a45a0" stroke-width="0.6" fill="none" opacity="0.9"/>
<polyline points="210.00,278.70 249.60,259.04 265.70,251.70 282.00,251.70 298.00,242.63 314.30,240.04" fill="none" stroke="#6a45a0" stroke-width="0.7" opacity="0.85"/>
<circle cx="210.00" cy="278.70" r="1.95" fill="#6a45a0"/>
<circle cx="249.60" cy="259.04" r="1.95" fill="#6a45a0"/>
<circle cx="265.70" cy="251.70" r="1.95" fill="#6a45a0"/>
<circle cx="282.00" cy="251.70" r="1.95" fill="#6a45a0"/>
<circle cx="298.00" cy="242.63" r="1.95" fill="#6a45a0"/>
<circle cx="314.30" cy="240.04" r="1.95" fill="#6a45a0"/>
<path d="M249.60 278.27 V276.54 M247.50 276.54 H251.70" stroke="#ee1d25" stroke-width="0.6" fill="none" opacity="0.9"/>
<path d="M265.70 259.91 V246.30 M263.60 246.30 H267.80" stroke="#ee1d25" stroke-width="0.6" fill="none" opacity="0.9"/>
<path d="M282.00 258.83 V242.20 M279.90 242.20 H284.10" stroke="#ee1d25" stroke-width="0.6" fill="none" opacity="0.9"/>
<path d="M298.00 257.75 V245.22 M295.90 245.22 H300.10" stroke="#ee1d25" stroke-width="0.6" fill="none" opacity="0.9"/>
<path d="M314.30 242.63 V235.07 M312.20 235.07 H316.40" stroke="#ee1d25" stroke-width="0.6" fill="none" opacity="0.9"/>
<polyline points="210.00,278.70 249.60,278.27 265.70,259.91 282.00,258.83 298.00,257.75 314.30,242.63" fill="none" stroke="#ee1d25" stroke-width="0.7" opacity="0.85"/>
<circle cx="210.00" cy="278.70" r="1.95" fill="#ee1d25"/>
<circle cx="249.60" cy="278.27" r="1.95" fill="#ee1d25"/>
<circle cx="265.70" cy="259.91" r="1.95" fill="#ee1d25"/>
<circle cx="282.00" cy="258.83" r="1.95" fill="#ee1d25"/>
<circle cx="298.00" cy="257.75" r="1.95" fill="#ee1d25"/>
<circle cx="314.30" cy="242.63" r="1.95" fill="#ee1d25"/>
<circle cx="334.80" cy="286.26" r="1.95" fill="#8a8a8a"/>
<circle cx="336.40" cy="281.08" r="1.95" fill="#ee1d25"/>
<circle cx="335.30" cy="283.24" r="1.95" fill="#6a45a0"/>
<circle cx="334.90" cy="281.08" r="1.95" fill="#2e48a6"/>
<polygon points="266.40,236.34 266.86,237.45 268.06,237.55 267.15,238.34 267.43,239.51 266.40,238.88 265.37,239.51 265.65,238.34 264.74,237.55 265.94,237.45" fill="#6a45a0"/>
<polygon points="282.70,229.65 283.16,230.76 284.36,230.86 283.45,231.64 283.73,232.81 282.70,232.18 281.67,232.81 281.95,231.64 281.04,230.86 282.24,230.76" fill="#6a45a0"/>
<polygon points="295.70,231.16 296.16,232.27 297.36,232.37 296.45,233.15 296.73,234.32 295.70,233.70 294.67,234.32 294.95,233.15 294.04,232.37 295.24,232.27" fill="#6a45a0"/>
<polygon points="298.70,231.16 299.16,232.27 300.36,232.37 299.45,233.15 299.73,234.32 298.70,233.70 297.67,234.32 297.95,233.15 297.04,232.37 298.24,232.27" fill="#6a45a0"/>
<polygon points="301.70,231.16 302.16,232.27 303.36,232.37 302.45,233.15 302.73,234.32 301.70,233.70 300.67,234.32 300.95,233.15 300.04,232.37 301.24,232.27" fill="#6a45a0"/>
<polygon points="312.00,225.97 312.46,227.09 313.66,227.18 312.75,227.97 313.03,229.14 312.00,228.51 310.97,229.14 311.25,227.97 310.34,227.18 311.54,227.09" fill="#6a45a0"/>
<polygon points="315.00,225.97 315.46,227.09 316.66,227.18 315.75,227.97 316.03,229.14 315.00,228.51 313.97,229.14 314.25,227.97 313.34,227.18 314.54,227.09" fill="#6a45a0"/>
<polygon points="318.00,225.97 318.46,227.09 319.66,227.18 318.75,227.97 319.03,229.14 318.00,228.51 316.97,229.14 317.25,227.97 316.34,227.18 317.54,227.09" fill="#6a45a0"/>
<polygon points="312.00,229.65 312.46,230.76 313.66,230.86 312.75,231.64 313.03,232.81 312.00,232.18 310.97,232.81 311.25,231.64 310.34,230.86 311.54,230.76" fill="#ee1d25"/>
<polygon points="315.00,229.65 315.46,230.76 316.66,230.86 315.75,231.64 316.03,232.81 315.00,232.18 313.97,232.81 314.25,231.64 313.34,230.86 314.54,230.76" fill="#ee1d25"/>
<polygon points="318.00,229.65 318.46,230.76 319.66,230.86 318.75,231.64 319.03,232.81 318.00,232.18 316.97,232.81 317.25,231.64 316.34,230.86 317.54,230.76" fill="#ee1d25"/>
<line x1="221.00" y1="210.30" x2="230.00" y2="210.30" stroke="#ee1d25" stroke-width="0.8"/>
<circle cx="225.50" cy="210.30" r="1.95" fill="#ee1d25"/>
<text x="234.60" y="213.30" font-size="8.2" font-weight="bold" text-anchor="start" fill="#000" stroke="#000" stroke-width="0.22" >SM</text>
<line x1="221.00" y1="222.20" x2="230.00" y2="222.20" stroke="#6a45a0" stroke-width="0.8"/>
<circle cx="225.50" cy="222.20" r="1.95" fill="#6a45a0"/>
<text x="234.60" y="225.20" font-size="8.2" font-weight="bold" text-anchor="start" fill="#000" stroke="#000" stroke-width="0.22" >SMQ</text>
<line x1="221.00" y1="234.40" x2="230.00" y2="234.40" stroke="#2e48a6" stroke-width="0.8"/>
<circle cx="225.50" cy="234.40" r="1.95" fill="#2e48a6"/>
<text x="234.60" y="237.40" font-size="8.2" font-weight="bold" text-anchor="start" fill="#000" stroke="#000" stroke-width="0.22" >SQ</text>
<line x1="221.00" y1="246.70" x2="230.00" y2="246.70" stroke="#8a8a8a" stroke-width="0.8"/>
<circle cx="225.50" cy="246.70" r="1.95" fill="#8a8a8a"/>
<text x="234.60" y="249.70" font-size="8.2" font-weight="bold" text-anchor="start" fill="#000" stroke="#000" stroke-width="0.22" >SWE</text>
<text x="440.90" y="191.60" font-size="8.7" font-weight="bold" text-anchor="middle" fill="#000" textLength="28.40" lengthAdjust="spacingAndGlyphs" stroke="#000" stroke-width="0.22" >CD4 LS</text>
<text x="365.90" y="246.00" font-size="7.0" font-weight="bold" text-anchor="middle" fill="#000" textLength="52.30" lengthAdjust="spacingAndGlyphs" stroke="#000" stroke-width="0.22" transform="rotate(-90 365.90 246.00)" >% of CD4+ cells</text>
<path d="M377.50 203.50 V289.50 H503.00" fill="none" stroke="#2a2a2a" stroke-width="1.25"/>
<line x1="374.30" y1="289.50" x2="377.50" y2="289.50" stroke="#2a2a2a" stroke-width="1.25"/>
<text x="372.90" y="292.00" font-size="6.9" font-weight="bold" text-anchor="end" fill="#000" stroke="#000" stroke-width="0.22" >0</text>
<line x1="374.30" y1="267.50" x2="377.50" y2="267.50" stroke="#2a2a2a" stroke-width="1.25"/>
<text x="372.90" y="270.40" font-size="6.9" font-weight="bold" text-anchor="end" fill="#000" stroke="#000" stroke-width="0.22" >1</text>
<line x1="374.30" y1="246.50" x2="377.50" y2="246.50" stroke="#2a2a2a" stroke-width="1.25"/>
<text x="372.90" y="248.80" font-size="6.9" font-weight="bold" text-anchor="end" fill="#000" stroke="#000" stroke-width="0.22" >2</text>
<line x1="374.30" y1="224.50" x2="377.50" y2="224.50" stroke="#2a2a2a" stroke-width="1.25"/>
<text x="372.90" y="227.20" font-size="6.9" font-weight="bold" text-anchor="end" fill="#000" stroke="#000" stroke-width="0.22" >3</text>
<line x1="374.30" y1="203.50" x2="377.50" y2="203.50" stroke="#2a2a2a" stroke-width="1.25"/>
<text x="372.90" y="205.60" font-size="6.9" font-weight="bold" text-anchor="end" fill="#000" stroke="#000" stroke-width="0.22" >4</text>
<line x1="398.50" y1="289.50" x2="398.50" y2="292.90" stroke="#2a2a2a" stroke-width="1.25"/>
<line x1="419.50" y1="289.50" x2="419.50" y2="292.90" stroke="#2a2a2a" stroke-width="1.25"/>
<line x1="440.50" y1="289.50" x2="440.50" y2="292.90" stroke="#2a2a2a" stroke-width="1.25"/>
<line x1="461.50" y1="289.50" x2="461.50" y2="292.90" stroke="#2a2a2a" stroke-width="1.25"/>
<line x1="481.50" y1="289.50" x2="481.50" y2="292.90" stroke="#2a2a2a" stroke-width="1.25"/>
<line x1="502.50" y1="289.50" x2="502.50" y2="292.90" stroke="#2a2a2a" stroke-width="1.25"/>
<path d="M383.80 305.70 Q439.80 301.50 475.80 298.80 H504.40 V305.70 Z" fill="#000"/>
<text x="440.90" y="318.70" font-size="7.0" font-weight="bold" text-anchor="middle" fill="#000" textLength="76.20" lengthAdjust="spacingAndGlyphs" stroke="#000" stroke-width="0.22" >Adjuvant Concentration</text>
<text x="503.50" y="314.50" font-size="7.0" font-weight="bold" text-anchor="middle" fill="#000" textLength="9.40" lengthAdjust="spacingAndGlyphs" stroke="#000" stroke-width="0.22" >No</text>
<text x="503.50" y="323.50" font-size="7.0" font-weight="bold" text-anchor="middle" fill="#000" textLength="23.50" lengthAdjust="spacingAndGlyphs" stroke="#000" stroke-width="0.22" >antigen</text>
<path d="M418.30 273.95 V272.22 M416.20 272.22 H420.40" stroke="#ee1d25" stroke-width="0.6" fill="none" opacity="0.9"/>
<path d="M433.60 274.81 V273.95 M431.50 273.95 H435.70" stroke="#ee1d25" stroke-width="0.6" fill="none" opacity="0.9"/>
<path d="M449.30 254.29 V246.30 M447.20 246.30 H451.40" stroke="#ee1d25" stroke-width="0.6" fill="none" opacity="0.9"/>
<path d="M465.60 235.07 V224.70 M463.50 224.70 H467.70" stroke="#ee1d25" stroke-width="0.6" fill="none" opacity="0.9"/>
<path d="M481.60 239.17 V219.30 M479.50 219.30 H483.70" stroke="#ee1d25" stroke-width="0.6" fill="none" opacity="0.9"/>
<polyline points="377.60,278.70 418.30,273.95 433.60,274.81 449.30,254.29 465.60,235.07 481.60,239.17" fill="none" stroke="#ee1d25" stroke-width="0.7" opacity="0.85"/>
<circle cx="377.60" cy="278.70" r="1.95" fill="#ee1d25"/>
<circle cx="418.30" cy="273.95" r="1.95" fill="#ee1d25"/>
<circle cx="433.60" cy="274.81" r="1.95" fill="#ee1d25"/>
<circle cx="449.30" cy="254.29" r="1.95" fill="#ee1d25"/>
<circle cx="465.60" cy="235.07" r="1.95" fill="#ee1d25"/>
<circle cx="481.60" cy="239.17" r="1.95" fill="#ee1d25"/>
<path d="M418.30 275.46 V274.38 M416.20 274.38 H420.40" stroke="#2e48a6" stroke-width="0.6" fill="none" opacity="0.9"/>
<path d="M433.60 275.46 V274.38 M431.50 274.38 H435.70" stroke="#2e48a6" stroke-width="0.6" fill="none" opacity="0.9"/>
<path d="M449.30 266.82 V263.58 M447.20 263.58 H451.40" stroke="#2e48a6" stroke-width="0.6" fill="none" opacity="0.9"/>
<path d="M465.60 251.70 V239.82 M463.50 239.82 H467.70" stroke="#2e48a6" stroke-width="0.6" fill="none" opacity="0.9"/>
<path d="M481.60 260.34 V258.18 M479.50 258.18 H483.70" stroke="#2e48a6" stroke-width="0.6" fill="none" opacity="0.9"/>
<polyline points="377.60,278.70 418.30,275.46 433.60,275.46 449.30,266.82 465.60,251.70 481.60,260.34" fill="none" stroke="#2e48a6" stroke-width="0.7" opacity="0.85"/>
<circle cx="377.60" cy="278.70" r="1.95" fill="#2e48a6"/>
<circle cx="418.30" cy="275.46" r="1.95" fill="#2e48a6"/>
<circle cx="433.60" cy="275.46" r="1.95" fill="#2e48a6"/>
<circle cx="449.30" cy="266.82" r="1.95" fill="#2e48a6"/>
<circle cx="465.60" cy="251.70" r="1.95" fill="#2e48a6"/>
<circle cx="481.60" cy="260.34" r="1.95" fill="#2e48a6"/>
<path d="M418.30 273.95 V267.90 M416.20 267.90 H420.40" stroke="#6a45a0" stroke-width="0.6" fill="none" opacity="0.9"/>
<path d="M433.60 274.81 V273.30 M431.50 273.30 H435.70" stroke="#6a45a0" stroke-width="0.6" fill="none" opacity="0.9"/>
<path d="M449.30 245.22 V227.94 M447.20 227.94 H451.40" stroke="#6a45a0" stroke-width="0.6" fill="none" opacity="0.9"/>
<path d="M465.60 243.06 V225.78 M463.50 225.78 H467.70" stroke="#6a45a0" stroke-width="0.6" fill="none" opacity="0.9"/>
<path d="M481.60 251.05 V247.38 M479.50 247.38 H483.70" stroke="#6a45a0" stroke-width="0.6" fill="none" opacity="0.9"/>
<polyline points="377.60,278.70 418.30,273.95 433.60,274.81 449.30,245.22 465.60,243.06 481.60,251.05" fill="none" stroke="#6a45a0" stroke-width="0.7" opacity="0.85"/>
<circle cx="377.60" cy="278.70" r="1.95" fill="#6a45a0"/>
<circle cx="418.30" cy="273.95" r="1.95" fill="#6a45a0"/>
<circle cx="433.60" cy="274.81" r="1.95" fill="#6a45a0"/>
<circle cx="449.30" cy="245.22" r="1.95" fill="#6a45a0"/>
<circle cx="465.60" cy="243.06" r="1.95" fill="#6a45a0"/>
<circle cx="481.60" cy="251.05" r="1.95" fill="#6a45a0"/>
<circle cx="503.30" cy="277.62" r="1.95" fill="#ee1d25"/>
<circle cx="503.30" cy="280.43" r="1.95" fill="#2e48a6"/>
<circle cx="503.80" cy="281.51" r="1.95" fill="#6a45a0"/>
<polygon points="448.50,222.30 448.96,223.41 450.16,223.51 449.25,224.30 449.53,225.47 448.50,224.84 447.47,225.47 447.75,224.30 446.84,223.51 448.04,223.41" fill="#6a45a0"/>
<polygon points="451.50,222.30 451.96,223.41 453.16,223.51 452.25,224.30 452.53,225.47 451.50,224.84 450.47,225.47 450.75,224.30 449.84,223.51 451.04,223.41" fill="#6a45a0"/>
<polygon points="463.30,212.15 463.76,213.26 464.96,213.36 464.05,214.14 464.33,215.32 463.30,214.69 462.27,215.32 462.55,214.14 461.64,213.36 462.84,213.26" fill="#ee1d25"/>
<polygon points="466.30,212.15 466.76,213.26 467.96,213.36 467.05,214.14 467.33,215.32 466.30,214.69 465.27,215.32 465.55,214.14 464.64,213.36 465.84,213.26" fill="#ee1d25"/>
<polygon points="469.30,212.15 469.76,213.26 470.96,213.36 470.05,214.14 470.33,215.32 469.30,214.69 468.27,215.32 468.55,214.14 467.64,213.36 468.84,213.26" fill="#ee1d25"/>
<polygon points="463.30,217.12 463.76,218.23 464.96,218.33 464.05,219.11 464.33,220.28 463.30,219.66 462.27,220.28 462.55,219.11 461.64,218.33 462.84,218.23" fill="#6a45a0"/>
<polygon points="466.30,217.12 466.76,218.23 467.96,218.33 467.05,219.11 467.33,220.28 466.30,219.66 465.27,220.28 465.55,219.11 464.64,218.33 465.84,218.23" fill="#6a45a0"/>
<polygon points="469.30,217.12 469.76,218.23 470.96,218.33 470.05,219.11 470.33,220.28 469.30,219.66 468.27,220.28 468.55,219.11 467.64,218.33 468.84,218.23" fill="#6a45a0"/>
<polygon points="466.30,254.70 466.76,255.81 467.96,255.91 467.05,256.70 467.33,257.87 466.30,257.24 465.27,257.87 465.55,256.70 464.64,255.91 465.84,255.81" fill="#2e48a6"/>
<polygon points="479.30,213.66 479.76,214.77 480.96,214.87 480.05,215.66 480.33,216.83 479.30,216.20 478.27,216.83 478.55,215.66 477.64,214.87 478.84,214.77" fill="#ee1d25"/>
<polygon points="482.30,213.66 482.76,214.77 483.96,214.87 483.05,215.66 483.33,216.83 482.30,216.20 481.27,216.83 481.55,215.66 480.64,214.87 481.84,214.77" fill="#ee1d25"/>
<polygon points="485.30,213.66 485.76,214.77 486.96,214.87 486.05,215.66 486.33,216.83 485.30,216.20 484.27,216.83 484.55,215.66 483.64,214.87 484.84,214.77" fill="#ee1d25"/>
<polygon points="482.30,243.25 482.76,244.37 483.96,244.46 483.05,245.25 483.33,246.42 482.30,245.79 481.27,246.42 481.55,245.25 480.64,244.46 481.84,244.37" fill="#6a45a0"/>
<line x1="388.90" y1="211.50" x2="398.60" y2="211.50" stroke="#ee1d25" stroke-width="0.8"/>
<circle cx="393.75" cy="211.50" r="1.95" fill="#ee1d25"/>
<text x="402.50" y="214.50" font-size="8.2" font-weight="bold" text-anchor="start" fill="#000" stroke="#000" stroke-width="0.22" >LM</text>
<line x1="388.90" y1="224.10" x2="398.60" y2="224.10" stroke="#6a45a0" stroke-width="0.8"/>
<circle cx="393.75" cy="224.10" r="1.95" fill="#6a45a0"/>
<text x="402.50" y="227.10" font-size="8.2" font-weight="bold" text-anchor="start" fill="#000" stroke="#000" stroke-width="0.22" >LMQ</text>
<line x1="388.90" y1="236.00" x2="398.60" y2="236.00" stroke="#2e48a6" stroke-width="0.8"/>
<circle cx="393.75" cy="236.00" r="1.95" fill="#2e48a6"/>
<text x="402.50" y="239.00" font-size="8.2" font-weight="bold" text-anchor="start" fill="#000" stroke="#000" stroke-width="0.22" >LQ</text>
<text x="608.40" y="191.60" font-size="8.7" font-weight="bold" text-anchor="middle" fill="#000" textLength="37.60" lengthAdjust="spacingAndGlyphs" stroke="#000" stroke-width="0.22" >CD4 other</text>
<text x="534.00" y="246.00" font-size="7.0" font-weight="bold" text-anchor="middle" fill="#000" textLength="52.30" lengthAdjust="spacingAndGlyphs" stroke="#000" stroke-width="0.22" transform="rotate(-90 534.00 246.00)" >% of CD4+ cells</text>
<path d="M545.50 203.50 V289.50 H670.50" fill="none" stroke="#2a2a2a" stroke-width="1.25"/>
<line x1="542.30" y1="289.50" x2="545.50" y2="289.50" stroke="#2a2a2a" stroke-width="1.25"/>
<text x="541.00" y="292.00" font-size="6.9" font-weight="bold" text-anchor="end" fill="#000" stroke="#000" stroke-width="0.22" >0</text>
<line x1="542.30" y1="267.50" x2="545.50" y2="267.50" stroke="#2a2a2a" stroke-width="1.25"/>
<text x="541.00" y="270.40" font-size="6.9" font-weight="bold" text-anchor="end" fill="#000" stroke="#000" stroke-width="0.22" >1</text>
<line x1="542.30" y1="246.50" x2="545.50" y2="246.50" stroke="#2a2a2a" stroke-width="1.25"/>
<text x="541.00" y="248.80" font-size="6.9" font-weight="bold" text-anchor="end" fill="#000" stroke="#000" stroke-width="0.22" >2</text>
<line x1="542.30" y1="224.50" x2="545.50" y2="224.50" stroke="#2a2a2a" stroke-width="1.25"/>
<text x="541.00" y="227.20" font-size="6.9" font-weight="bold" text-anchor="end" fill="#000" stroke="#000" stroke-width="0.22" >3</text>
<line x1="542.30" y1="203.50" x2="545.50" y2="203.50" stroke="#2a2a2a" stroke-width="1.25"/>
<text x="541.00" y="205.60" font-size="6.9" font-weight="bold" text-anchor="end" fill="#000" stroke="#000" stroke-width="0.22" >4</text>
<line x1="566.50" y1="289.50" x2="566.50" y2="292.90" stroke="#2a2a2a" stroke-width="1.25"/>
<line x1="587.50" y1="289.50" x2="587.50" y2="292.90" stroke="#2a2a2a" stroke-width="1.25"/>
<line x1="608.50" y1="289.50" x2="608.50" y2="292.90" stroke="#2a2a2a" stroke-width="1.25"/>
<line x1="629.50" y1="289.50" x2="629.50" y2="292.90" stroke="#2a2a2a" stroke-width="1.25"/>
<line x1="649.50" y1="289.50" x2="649.50" y2="292.90" stroke="#2a2a2a" stroke-width="1.25"/>
<line x1="670.50" y1="289.50" x2="670.50" y2="292.90" stroke="#2a2a2a" stroke-width="1.25"/>
<path d="M552.30 305.70 Q608.55 301.50 644.80 298.80 H672.30 V305.70 Z" fill="#000"/>
<text x="608.80" y="318.70" font-size="7.0" font-weight="bold" text-anchor="middle" fill="#000" textLength="76.20" lengthAdjust="spacingAndGlyphs" stroke="#000" stroke-width="0.22" >Adjuvant Concentration</text>
<text x="671.50" y="318.80" font-size="7.0" font-weight="bold" text-anchor="middle" fill="#000" textLength="9.40" lengthAdjust="spacingAndGlyphs" stroke="#000" stroke-width="0.22" >No</text>
<text x="671.50" y="327.80" font-size="7.0" font-weight="bold" text-anchor="middle" fill="#000" textLength="23.50" lengthAdjust="spacingAndGlyphs" stroke="#000" stroke-width="0.22" >antigen</text>
<path d="M585.40 252.56 V240.90 M583.30 240.90 H587.50" stroke="#12884a" stroke-width="0.6" fill="none" opacity="0.9"/>
<path d="M601.30 257.32 V251.27 M599.20 251.27 H603.40" stroke="#12884a" stroke-width="0.6" fill="none" opacity="0.9"/>
<path d="M617.30 246.08 V231.83 M615.20 231.83 H619.40" stroke="#12884a" stroke-width="0.6" fill="none" opacity="0.9"/>
<path d="M633.60 260.34 V259.26 M631.50 259.26 H635.70" stroke="#12884a" stroke-width="0.6" fill="none" opacity="0.9"/>
<path d="M649.70 263.15 V258.40 M647.60 258.40 H651.80" stroke="#12884a" stroke-width="0.6" fill="none" opacity="0.9"/>
<polyline points="545.70,278.70 585.40,252.56 601.30,257.32 617.30,246.08 633.60,260.34 649.70,263.15" fill="none" stroke="#12884a" stroke-width="0.7" opacity="0.85"/>
<circle cx="545.70" cy="278.70" r="1.95" fill="#12884a"/>
<circle cx="585.40" cy="252.56" r="1.95" fill="#12884a"/>
<circle cx="601.30" cy="257.32" r="1.95" fill="#12884a"/>
<circle cx="617.30" cy="246.08" r="1.95" fill="#12884a"/>
<circle cx="633.60" cy="260.34" r="1.95" fill="#12884a"/>
<circle cx="649.70" cy="263.15" r="1.95" fill="#12884a"/>
<path d="M564.50 270.71 V266.60 M562.40 266.60 H566.60" stroke="#d560c0" stroke-width="0.6" fill="none" opacity="0.9"/>
<path d="M580.50 265.52 V260.77 M578.40 260.77 H582.60" stroke="#d560c0" stroke-width="0.6" fill="none" opacity="0.9"/>
<path d="M596.80 273.08 V268.98 M594.70 268.98 H598.90" stroke="#d560c0" stroke-width="0.6" fill="none" opacity="0.9"/>
<path d="M612.60 273.08 V272.22 M610.50 272.22 H614.70" stroke="#d560c0" stroke-width="0.6" fill="none" opacity="0.9"/>
<path d="M628.90 265.52 V264.66 M626.80 264.66 H631.00" stroke="#d560c0" stroke-width="0.6" fill="none" opacity="0.9"/>
<polyline points="545.70,278.70 564.50,270.71 580.50,265.52 596.80,273.08 612.60,273.08 628.90,265.52" fill="none" stroke="#d560c0" stroke-width="0.7" opacity="0.85"/>
<circle cx="545.70" cy="278.70" r="1.95" fill="#d560c0"/>
<circle cx="564.50" cy="270.71" r="1.95" fill="#d560c0"/>
<circle cx="580.50" cy="265.52" r="1.95" fill="#d560c0"/>
<circle cx="596.80" cy="273.08" r="1.95" fill="#d560c0"/>
<circle cx="612.60" cy="273.08" r="1.95" fill="#d560c0"/>
<circle cx="628.90" cy="265.52" r="1.95" fill="#d560c0"/>
<path d="M585.40 259.69 V249.11 M583.30 249.11 H587.50" stroke="#f36a25" stroke-width="0.6" fill="none" opacity="0.9"/>
<path d="M601.30 267.04 V262.07 M599.20 262.07 H603.40" stroke="#f36a25" stroke-width="0.6" fill="none" opacity="0.9"/>
<path d="M617.30 266.39 V261.42 M615.20 261.42 H619.40" stroke="#f36a25" stroke-width="0.6" fill="none" opacity="0.9"/>
<path d="M633.60 253.21 V246.30 M631.50 246.30 H635.70" stroke="#f36a25" stroke-width="0.6" fill="none" opacity="0.9"/>
<path d="M649.70 236.80 V224.70 M647.60 224.70 H651.80" stroke="#f36a25" stroke-width="0.6" fill="none" opacity="0.9"/>
<polyline points="545.70,278.70 585.40,259.69 601.30,267.04 617.30,266.39 633.60,253.21 649.70,236.80" fill="none" stroke="#f36a25" stroke-width="0.7" opacity="0.85"/>
<circle cx="545.70" cy="278.70" r="1.95" fill="#f36a25"/>
<circle cx="585.40" cy="259.69" r="1.95" fill="#f36a25"/>
<circle cx="601.30" cy="267.04" r="1.95" fill="#f36a25"/>
<circle cx="617.30" cy="266.39" r="1.95" fill="#f36a25"/>
<circle cx="633.60" cy="253.21" r="1.95" fill="#f36a25"/>
<circle cx="649.70" cy="236.80" r="1.95" fill="#f36a25"/>
<path d="M585.40 276.11 V273.73 M583.30 273.73 H587.50" stroke="#2e48a6" stroke-width="0.6" fill="none" opacity="0.9"/>
<path d="M601.30 270.28 V264.66 M599.20 264.66 H603.40" stroke="#2e48a6" stroke-width="0.6" fill="none" opacity="0.9"/>
<path d="M617.30 270.06 V268.33 M615.20 268.33 H619.40" stroke="#2e48a6" stroke-width="0.6" fill="none" opacity="0.9"/>
<path d="M633.60 257.75 V250.62 M631.50 250.62 H635.70" stroke="#2e48a6" stroke-width="0.6" fill="none" opacity="0.9"/>
<path d="M649.70 243.49 V231.61 M647.60 231.61 H651.80" stroke="#2e48a6" stroke-width="0.6" fill="none" opacity="0.9"/>
<polyline points="545.70,278.92 585.40,276.11 601.30,270.28 617.30,270.06 633.60,257.75 649.70,243.49" fill="none" stroke="#2e48a6" stroke-width="0.7" opacity="0.85"/>
<circle cx="545.70" cy="278.92" r="1.95" fill="#2e48a6"/>
<circle cx="585.40" cy="276.11" r="1.95" fill="#2e48a6"/>
<circle cx="601.30" cy="270.28" r="1.95" fill="#2e48a6"/>
<circle cx="617.30" cy="270.06" r="1.95" fill="#2e48a6"/>
<circle cx="633.60" cy="257.75" r="1.95" fill="#2e48a6"/>
<circle cx="649.70" cy="243.49" r="1.95" fill="#2e48a6"/>
<circle cx="671.00" cy="281.51" r="1.95" fill="#12884a"/>
<circle cx="670.20" cy="280.86" r="1.95" fill="#d560c0"/>
<circle cx="670.20" cy="272.22" r="1.95" fill="#f36a25"/>
<circle cx="670.20" cy="276.11" r="1.95" fill="#2e48a6"/>
<polygon points="586.10,236.56 586.56,237.67 587.76,237.77 586.85,238.55 587.13,239.72 586.10,239.10 585.07,239.72 585.35,238.55 584.44,237.77 585.64,237.67" fill="#12884a"/>
<polygon points="616.50,226.41 616.96,227.52 618.16,227.62 617.25,228.40 617.53,229.57 616.50,228.94 615.47,229.57 615.75,228.40 614.84,227.62 616.04,227.52" fill="#12884a"/>
<polygon points="619.50,226.41 619.96,227.52 621.16,227.62 620.25,228.40 620.53,229.57 619.50,228.94 618.47,229.57 618.75,228.40 617.84,227.62 619.04,227.52" fill="#12884a"/>
<polygon points="634.30,241.96 634.76,243.07 635.96,243.17 635.05,243.95 635.33,245.12 634.30,244.50 633.27,245.12 633.55,243.95 632.64,243.17 633.84,243.07" fill="#f36a25"/>
<polygon points="647.40,217.33 647.86,218.45 649.06,218.54 648.15,219.33 648.43,220.50 647.40,219.87 646.37,220.50 646.65,219.33 645.74,218.54 646.94,218.45" fill="#f36a25"/>
<polygon points="650.40,217.33 650.86,218.45 652.06,218.54 651.15,219.33 651.43,220.50 650.40,219.87 649.37,220.50 649.65,219.33 648.74,218.54 649.94,218.45" fill="#f36a25"/>
<polygon points="653.40,217.33 653.86,218.45 655.06,218.54 654.15,219.33 654.43,220.50 653.40,219.87 652.37,220.50 652.65,219.33 651.74,218.54 652.94,218.45" fill="#f36a25"/>
<polygon points="647.40,221.22 647.86,222.33 649.06,222.43 648.15,223.22 648.43,224.39 647.40,223.76 646.37,224.39 646.65,223.22 645.74,222.43 646.94,222.33" fill="#2e48a6"/>
<polygon points="650.40,221.22 650.86,222.33 652.06,222.43 651.15,223.22 651.43,224.39 650.40,223.76 649.37,224.39 649.65,223.22 648.74,222.43 649.94,222.33" fill="#2e48a6"/>
<polygon points="653.40,221.22 653.86,222.33 655.06,222.43 654.15,223.22 654.43,224.39 653.40,223.76 652.37,224.39 652.65,223.22 651.74,222.43 652.94,222.33" fill="#2e48a6"/>
<line x1="553.30" y1="201.10" x2="562.50" y2="201.10" stroke="#2e48a6" stroke-width="0.8"/>
<circle cx="557.90" cy="201.10" r="1.95" fill="#2e48a6"/>
<text x="566.60" y="204.10" font-size="8.2" font-weight="bold" text-anchor="start" fill="#000" stroke="#000" stroke-width="0.22" >AL</text>
<line x1="553.30" y1="211.00" x2="562.50" y2="211.00" stroke="#12884a" stroke-width="0.8"/>
<circle cx="557.90" cy="211.00" r="1.95" fill="#12884a"/>
<text x="566.60" y="214.00" font-size="8.2" font-weight="bold" text-anchor="start" fill="#000" stroke="#000" stroke-width="0.22" >EM</text>
<line x1="553.30" y1="221.20" x2="562.50" y2="221.20" stroke="#f36a25" stroke-width="0.8"/>
<circle cx="557.90" cy="221.20" r="1.95" fill="#f36a25"/>
<text x="566.60" y="224.20" font-size="8.2" font-weight="bold" text-anchor="start" fill="#000" stroke="#000" stroke-width="0.22" >dMLT</text>
<line x1="553.30" y1="231.00" x2="562.50" y2="231.00" stroke="#d560c0" stroke-width="0.8"/>
<circle cx="557.90" cy="231.00" r="1.95" fill="#d560c0"/>
<text x="566.60" y="234.00" font-size="8.2" font-weight="bold" text-anchor="start" fill="#000" stroke="#000" stroke-width="0.22" >QS-7</text>
<text x="104.95" y="349.60" font-size="8.7" font-weight="bold" text-anchor="middle" fill="#000" textLength="68.50" lengthAdjust="spacingAndGlyphs" stroke="#000" stroke-width="0.22" >CD8 unformulated</text>
<text x="30.20" y="404.00" font-size="7.0" font-weight="bold" text-anchor="middle" fill="#000" textLength="52.30" lengthAdjust="spacingAndGlyphs" stroke="#000" stroke-width="0.22" transform="rotate(-90 30.20 404.00)" >% of CD8+ cells</text>
<path d="M42.50 360.50 V447.50 H168.00" fill="none" stroke="#2a2a2a" stroke-width="1.25"/>
<line x1="39.30" y1="447.50" x2="42.50" y2="447.50" stroke="#2a2a2a" stroke-width="1.25"/>
<text x="37.80" y="449.50" font-size="6.9" font-weight="bold" text-anchor="end" fill="#000" stroke="#000" stroke-width="0.22" >0</text>
<line x1="39.30" y1="418.50" x2="42.50" y2="418.50" stroke="#2a2a2a" stroke-width="1.25"/>
<text x="37.80" y="420.70" font-size="6.9" font-weight="bold" text-anchor="end" fill="#000" stroke="#000" stroke-width="0.22" >1</text>
<line x1="39.30" y1="389.50" x2="42.50" y2="389.50" stroke="#2a2a2a" stroke-width="1.25"/>
<text x="37.80" y="391.90" font-size="6.9" font-weight="bold" text-anchor="end" fill="#000" stroke="#000" stroke-width="0.22" >2</text>
<line x1="39.30" y1="360.50" x2="42.50" y2="360.50" stroke="#2a2a2a" stroke-width="1.25"/>
<text x="37.80" y="363.10" font-size="6.9" font-weight="bold" text-anchor="end" fill="#000" stroke="#000" stroke-width="0.22" >3</text>
<line x1="67.50" y1="447.50" x2="67.50" y2="450.90" stroke="#2a2a2a" stroke-width="1.25"/>
<line x1="92.50" y1="447.50" x2="92.50" y2="450.90" stroke="#2a2a2a" stroke-width="1.25"/>
<line x1="117.50" y1="447.50" x2="117.50" y2="450.90" stroke="#2a2a2a" stroke-width="1.25"/>
<line x1="142.50" y1="447.50" x2="142.50" y2="450.90" stroke="#2a2a2a" stroke-width="1.25"/>
<line x1="168.50" y1="447.50" x2="168.50" y2="450.90" stroke="#2a2a2a" stroke-width="1.25"/>
<path d="M48.70 463.20 Q105.75 459.00 142.80 456.30 H169.00 V463.20 Z" fill="#000"/>
<text x="105.30" y="476.20" font-size="7.0" font-weight="bold" text-anchor="middle" fill="#000" textLength="76.00" lengthAdjust="spacingAndGlyphs" stroke="#000" stroke-width="0.22" >Adjuvant Concentration</text>
<text x="168.00" y="476.30" font-size="7.0" font-weight="bold" text-anchor="middle" fill="#000" textLength="9.40" lengthAdjust="spacingAndGlyphs" stroke="#000" stroke-width="0.22" >No</text>
<text x="168.00" y="485.30" font-size="7.0" font-weight="bold" text-anchor="middle" fill="#000" textLength="23.50" lengthAdjust="spacingAndGlyphs" stroke="#000" stroke-width="0.22" >antigen</text>
<polyline points="42.50,440.38 64.50,442.97 84.30,444.70 104.10,443.26 123.00,442.97 143.00,442.97" fill="none" stroke="#6a45a0" stroke-width="0.7" opacity="0.85"/>
<circle cx="42.50" cy="440.38" r="1.95" fill="#6a45a0"/>
<circle cx="64.50" cy="442.97" r="1.95" fill="#6a45a0"/>
<circle cx="84.30" cy="444.70" r="1.95" fill="#6a45a0"/>
<circle cx="104.10" cy="443.26" r="1.95" fill="#6a45a0"/>
<circle cx="123.00" cy="442.97" r="1.95" fill="#6a45a0"/>
<circle cx="143.00" cy="442.97" r="1.95" fill="#6a45a0"/>
<path d="M42.50 440.38 V439.80 M40.40 439.80 H44.60" stroke="#2e48a6" stroke-width="0.6" fill="none" opacity="0.9"/>
<path d="M64.50 442.10 V440.38 M62.40 440.38 H66.60" stroke="#2e48a6" stroke-width="0.6" fill="none" opacity="0.9"/>
<path d="M84.30 444.70 V444.12 M82.20 444.12 H86.40" stroke="#2e48a6" stroke-width="0.6" fill="none" opacity="0.9"/>
<path d="M104.10 440.09 V438.36 M102.00 438.36 H106.20" stroke="#2e48a6" stroke-width="0.6" fill="none" opacity="0.9"/>
<path d="M123.00 438.36 V433.18 M120.90 433.18 H125.10" stroke="#2e48a6" stroke-width="0.6" fill="none" opacity="0.9"/>
<path d="M143.00 442.68 V438.94 M140.90 438.94 H145.10" stroke="#2e48a6" stroke-width="0.6" fill="none" opacity="0.9"/>
<polyline points="42.50,440.38 64.50,442.10 84.30,444.70 104.10,440.09 123.00,438.36 143.00,442.68" fill="none" stroke="#2e48a6" stroke-width="0.7" opacity="0.85"/>
<circle cx="42.50" cy="440.38" r="1.95" fill="#2e48a6"/>
<circle cx="64.50" cy="442.10" r="1.95" fill="#2e48a6"/>
<circle cx="84.30" cy="444.70" r="1.95" fill="#2e48a6"/>
<circle cx="104.10" cy="440.09" r="1.95" fill="#2e48a6"/>
<circle cx="123.00" cy="438.36" r="1.95" fill="#2e48a6"/>
<circle cx="143.00" cy="442.68" r="1.95" fill="#2e48a6"/>
<path d="M42.50 440.09 V436.06 M40.40 436.06 H44.60" stroke="#ee1d25" stroke-width="0.6" fill="none" opacity="0.9"/>
<path d="M104.10 438.65 V432.31 M102.00 432.31 H106.20" stroke="#ee1d25" stroke-width="0.6" fill="none" opacity="0.9"/>
<path d="M143.00 442.10 V441.24 M140.90 441.24 H145.10" stroke="#ee1d25" stroke-width="0.6" fill="none" opacity="0.9"/>
<polyline points="42.50,440.09 64.50,444.41 84.30,443.83 104.10,438.65 123.00,443.83 143.00,442.10" fill="none" stroke="#ee1d25" stroke-width="0.7" opacity="0.85"/>
<circle cx="42.50" cy="440.09" r="1.95" fill="#ee1d25"/>
<circle cx="64.50" cy="444.41" r="1.95" fill="#ee1d25"/>
<circle cx="84.30" cy="443.83" r="1.95" fill="#ee1d25"/>
<circle cx="104.10" cy="438.65" r="1.95" fill="#ee1d25"/>
<circle cx="123.00" cy="443.83" r="1.95" fill="#ee1d25"/>
<circle cx="143.00" cy="442.10" r="1.95" fill="#ee1d25"/>
<circle cx="168.00" cy="437.21" r="1.95" fill="#6a45a0"/>
<circle cx="168.00" cy="435.77" r="1.95" fill="#2e48a6"/>
<circle cx="168.00" cy="430.58" r="1.95" fill="#ee1d25"/>
<line x1="50.10" y1="367.00" x2="59.60" y2="367.00" stroke="#ee1d25" stroke-width="0.8"/>
<circle cx="54.85" cy="367.00" r="1.95" fill="#ee1d25"/>
<text x="64.60" y="370.00" font-size="8.2" font-weight="bold" text-anchor="start" fill="#000" stroke="#000" stroke-width="0.22" >MPLA</text>
<line x1="50.10" y1="378.60" x2="59.60" y2="378.60" stroke="#2e48a6" stroke-width="0.8"/>
<circle cx="54.85" cy="378.60" r="1.95" fill="#2e48a6"/>
<text x="64.60" y="381.60" font-size="8.2" font-weight="bold" text-anchor="start" fill="#000" stroke="#000" stroke-width="0.22" >QS-21</text>
<line x1="50.10" y1="391.10" x2="59.60" y2="391.10" stroke="#6a45a0" stroke-width="0.8"/>
<circle cx="54.85" cy="391.10" r="1.95" fill="#6a45a0"/>
<text x="64.60" y="394.10" font-size="8.2" font-weight="bold" text-anchor="start" fill="#000" stroke="#000" stroke-width="0.22" >MPLA+QS-21</text>
<text x="272.60" y="349.60" font-size="8.7" font-weight="bold" text-anchor="middle" fill="#000" textLength="32.80" lengthAdjust="spacingAndGlyphs" stroke="#000" stroke-width="0.22" >CD8 OIW</text>
<text x="198.60" y="404.00" font-size="7.0" font-weight="bold" text-anchor="middle" fill="#000" textLength="52.30" lengthAdjust="spacingAndGlyphs" stroke="#000" stroke-width="0.22" transform="rotate(-90 198.60 404.00)" >% of CD8+ cells</text>
<path d="M210.50 360.50 V447.50 H335.80" fill="none" stroke="#2a2a2a" stroke-width="1.25"/>
<line x1="207.30" y1="447.50" x2="210.50" y2="447.50" stroke="#2a2a2a" stroke-width="1.25"/>
<text x="205.30" y="449.50" font-size="6.9" font-weight="bold" text-anchor="end" fill="#000" stroke="#000" stroke-width="0.22" >0</text>
<line x1="207.30" y1="418.50" x2="210.50" y2="418.50" stroke="#2a2a2a" stroke-width="1.25"/>
<text x="205.30" y="420.70" font-size="6.9" font-weight="bold" text-anchor="end" fill="#000" stroke="#000" stroke-width="0.22" >1</text>
<line x1="207.30" y1="389.50" x2="210.50" y2="389.50" stroke="#2a2a2a" stroke-width="1.25"/>
<text x="205.30" y="391.90" font-size="6.9" font-weight="bold" text-anchor="end" fill="#000" stroke="#000" stroke-width="0.22" >2</text>
<line x1="207.30" y1="360.50" x2="210.50" y2="360.50" stroke="#2a2a2a" stroke-width="1.25"/>
<text x="205.30" y="363.10" font-size="6.9" font-weight="bold" text-anchor="end" fill="#000" stroke="#000" stroke-width="0.22" >3</text>
<line x1="231.50" y1="447.50" x2="231.50" y2="450.90" stroke="#2a2a2a" stroke-width="1.25"/>
<line x1="252.50" y1="447.50" x2="252.50" y2="450.90" stroke="#2a2a2a" stroke-width="1.25"/>
<line x1="272.50" y1="447.50" x2="272.50" y2="450.90" stroke="#2a2a2a" stroke-width="1.25"/>
<line x1="293.50" y1="447.50" x2="293.50" y2="450.90" stroke="#2a2a2a" stroke-width="1.25"/>
<line x1="314.50" y1="447.50" x2="314.50" y2="450.90" stroke="#2a2a2a" stroke-width="1.25"/>
<line x1="334.50" y1="447.50" x2="334.50" y2="450.90" stroke="#2a2a2a" stroke-width="1.25"/>
<path d="M216.50 463.20 Q272.25 459.00 308.00 456.30 H336.50 V463.20 Z" fill="#000"/>
<text x="273.00" y="476.20" font-size="7.0" font-weight="bold" text-anchor="middle" fill="#000" textLength="76.20" lengthAdjust="spacingAndGlyphs" stroke="#000" stroke-width="0.22" >Adjuvant Concentration</text>
<text x="335.50" y="472.00" font-size="7.0" font-weight="bold" text-anchor="middle" fill="#000" textLength="9.40" lengthAdjust="spacingAndGlyphs" stroke="#000" stroke-width="0.22" >No</text>
<text x="335.50" y="481.00" font-size="7.0" font-weight="bold" text-anchor="middle" fill="#000" textLength="23.50" lengthAdjust="spacingAndGlyphs" stroke="#000" stroke-width="0.22" >antigen</text>
<polyline points="210.00,441.82 249.60,444.41 265.70,442.68 282.00,445.27 298.00,444.55 314.30,442.97" fill="none" stroke="#8a8a8a" stroke-width="0.7" opacity="0.85"/>
<circle cx="210.00" cy="441.82" r="1.95" fill="#8a8a8a"/>
<circle cx="249.60" cy="444.41" r="1.95" fill="#8a8a8a"/>
<circle cx="265.70" cy="442.68" r="1.95" fill="#8a8a8a"/>
<circle cx="282.00" cy="445.27" r="1.95" fill="#8a8a8a"/>
<circle cx="298.00" cy="444.55" r="1.95" fill="#8a8a8a"/>
<circle cx="314.30" cy="442.97" r="1.95" fill="#8a8a8a"/>
<path d="M249.60 431.74 V425.40 M247.50 425.40 H251.70" stroke="#2e48a6" stroke-width="0.6" fill="none" opacity="0.9"/>
<path d="M265.70 437.50 V434.33 M263.60 434.33 H267.80" stroke="#2e48a6" stroke-width="0.6" fill="none" opacity="0.9"/>
<path d="M282.00 417.91 V406.10 M279.90 406.10 H284.10" stroke="#2e48a6" stroke-width="0.6" fill="none" opacity="0.9"/>
<path d="M298.00 413.59 V398.04 M295.90 398.04 H300.10" stroke="#2e48a6" stroke-width="0.6" fill="none" opacity="0.9"/>
<path d="M314.30 425.11 V415.32 M312.20 415.32 H316.40" stroke="#2e48a6" stroke-width="0.6" fill="none" opacity="0.9"/>
<polyline points="210.00,441.82 249.60,431.74 265.70,437.50 282.00,417.91 298.00,413.59 314.30,425.11" fill="none" stroke="#2e48a6" stroke-width="0.7" opacity="0.85"/>
<circle cx="210.00" cy="441.82" r="1.95" fill="#2e48a6"/>
<circle cx="249.60" cy="431.74" r="1.95" fill="#2e48a6"/>
<circle cx="265.70" cy="437.50" r="1.95" fill="#2e48a6"/>
<circle cx="282.00" cy="417.91" r="1.95" fill="#2e48a6"/>
<circle cx="298.00" cy="413.59" r="1.95" fill="#2e48a6"/>
<circle cx="314.30" cy="425.11" r="1.95" fill="#2e48a6"/>
<path d="M249.60 415.32 V402.94 M247.50 402.94 H251.70" stroke="#6a45a0" stroke-width="0.6" fill="none" opacity="0.9"/>
<path d="M265.70 407.83 V394.30 M263.60 394.30 H267.80" stroke="#6a45a0" stroke-width="0.6" fill="none" opacity="0.9"/>
<path d="M282.00 414.17 V402.36 M279.90 402.36 H284.10" stroke="#6a45a0" stroke-width="0.6" fill="none" opacity="0.9"/>
<path d="M298.00 402.94 V394.87 M295.90 394.87 H300.10" stroke="#6a45a0" stroke-width="0.6" fill="none" opacity="0.9"/>
<path d="M314.30 381.05 V367.22 M312.20 367.22 H316.40" stroke="#6a45a0" stroke-width="0.6" fill="none" opacity="0.9"/>
<polyline points="210.00,441.82 249.60,415.32 265.70,407.83 282.00,414.17 298.00,402.94 314.30,381.05" fill="none" stroke="#6a45a0" stroke-width="0.7" opacity="0.85"/>
<circle cx="210.00" cy="441.82" r="1.95" fill="#6a45a0"/>
<circle cx="249.60" cy="415.32" r="1.95" fill="#6a45a0"/>
<circle cx="265.70" cy="407.83" r="1.95" fill="#6a45a0"/>
<circle cx="282.00" cy="414.17" r="1.95" fill="#6a45a0"/>
<circle cx="298.00" cy="402.94" r="1.95" fill="#6a45a0"/>
<circle cx="314.30" cy="381.05" r="1.95" fill="#6a45a0"/>
<path d="M210.00 441.82 V438.94 M207.90 438.94 H212.10" stroke="#ee1d25" stroke-width="0.6" fill="none" opacity="0.9"/>
<path d="M265.70 441.82 V441.24 M263.60 441.24 H267.80" stroke="#ee1d25" stroke-width="0.6" fill="none" opacity="0.9"/>
<path d="M282.00 440.38 V437.50 M279.90 437.50 H284.10" stroke="#ee1d25" stroke-width="0.6" fill="none" opacity="0.9"/>
<path d="M298.00 434.62 V428.28 M295.90 428.28 H300.10" stroke="#ee1d25" stroke-width="0.6" fill="none" opacity="0.9"/>
<path d="M314.30 443.83 V443.54 M312.20 443.54 H316.40" stroke="#ee1d25" stroke-width="0.6" fill="none" opacity="0.9"/>
<polyline points="210.00,441.82 249.60,445.99 265.70,441.82 282.00,440.38 298.00,434.62 314.30,443.83" fill="none" stroke="#ee1d25" stroke-width="0.7" opacity="0.85"/>
<circle cx="210.00" cy="441.82" r="1.95" fill="#ee1d25"/>
<circle cx="249.60" cy="445.99" r="1.95" fill="#ee1d25"/>
<circle cx="265.70" cy="441.82" r="1.95" fill="#ee1d25"/>
<circle cx="282.00" cy="440.38" r="1.95" fill="#ee1d25"/>
<circle cx="298.00" cy="434.62" r="1.95" fill="#ee1d25"/>
<circle cx="314.30" cy="443.83" r="1.95" fill="#ee1d25"/>
<circle cx="334.80" cy="441.82" r="1.95" fill="#8a8a8a"/>
<circle cx="333.40" cy="435.48" r="1.95" fill="#ee1d25"/>
<circle cx="336.40" cy="435.48" r="1.95" fill="#6a45a0"/>
<circle cx="335.20" cy="435.48" r="1.95" fill="#2e48a6"/>
<polygon points="247.30,397.73 247.76,398.84 248.96,398.94 248.05,399.72 248.33,400.90 247.30,400.27 246.27,400.90 246.55,399.72 245.64,398.94 246.84,398.84" fill="#6a45a0"/>
<polygon points="250.30,397.73 250.76,398.84 251.96,398.94 251.05,399.72 251.33,400.90 250.30,400.27 249.27,400.90 249.55,399.72 248.64,398.94 249.84,398.84" fill="#6a45a0"/>
<polygon points="253.30,397.73 253.76,398.84 254.96,398.94 254.05,399.72 254.33,400.90 253.30,400.27 252.27,400.90 252.55,399.72 251.64,398.94 252.84,398.84" fill="#6a45a0"/>
<polygon points="263.40,389.09 263.86,390.20 265.06,390.30 264.15,391.08 264.43,392.26 263.40,391.63 262.37,392.26 262.65,391.08 261.74,390.30 262.94,390.20" fill="#6a45a0"/>
<polygon points="266.40,389.09 266.86,390.20 268.06,390.30 267.15,391.08 267.43,392.26 266.40,391.63 265.37,392.26 265.65,391.08 264.74,390.30 265.94,390.20" fill="#6a45a0"/>
<polygon points="269.40,389.09 269.86,390.20 271.06,390.30 270.15,391.08 270.43,392.26 269.40,391.63 268.37,392.26 268.65,391.08 267.74,390.30 268.94,390.20" fill="#6a45a0"/>
<polygon points="279.70,393.12 280.16,394.23 281.36,394.33 280.45,395.12 280.73,396.29 279.70,395.66 278.67,396.29 278.95,395.12 278.04,394.33 279.24,394.23" fill="#6a45a0"/>
<polygon points="282.70,393.12 283.16,394.23 284.36,394.33 283.45,395.12 283.73,396.29 282.70,395.66 281.67,396.29 281.95,395.12 281.04,394.33 282.24,394.23" fill="#6a45a0"/>
<polygon points="285.70,393.12 286.16,394.23 287.36,394.33 286.45,395.12 286.73,396.29 285.70,395.66 284.67,396.29 284.95,395.12 284.04,394.33 285.24,394.23" fill="#6a45a0"/>
<polygon points="281.20,397.73 281.66,398.84 282.86,398.94 281.95,399.72 282.23,400.90 281.20,400.27 280.17,400.90 280.45,399.72 279.54,398.94 280.74,398.84" fill="#2e48a6"/>
<polygon points="284.20,397.73 284.66,398.84 285.86,398.94 284.95,399.72 285.23,400.90 284.20,400.27 283.17,400.90 283.45,399.72 282.54,398.94 283.74,398.84" fill="#2e48a6"/>
<polygon points="295.70,387.07 296.16,388.19 297.36,388.28 296.45,389.07 296.73,390.24 295.70,389.61 294.67,390.24 294.95,389.07 294.04,388.28 295.24,388.19" fill="#6a45a0"/>
<polygon points="298.70,387.07 299.16,388.19 300.36,388.28 299.45,389.07 299.73,390.24 298.70,389.61 297.67,390.24 297.95,389.07 297.04,388.28 298.24,388.19" fill="#6a45a0"/>
<polygon points="301.70,387.07 302.16,388.19 303.36,388.28 302.45,389.07 302.73,390.24 301.70,389.61 300.67,390.24 300.95,389.07 300.04,388.28 301.24,388.19" fill="#6a45a0"/>
<polygon points="295.70,391.39 296.16,392.51 297.36,392.60 296.45,393.39 296.73,394.56 295.70,393.93 294.67,394.56 294.95,393.39 294.04,392.60 295.24,392.51" fill="#2e48a6"/>
<polygon points="298.70,391.39 299.16,392.51 300.36,392.60 299.45,393.39 299.73,394.56 298.70,393.93 297.67,394.56 297.95,393.39 297.04,392.60 298.24,392.51" fill="#2e48a6"/>
<polygon points="301.70,391.39 302.16,392.51 303.36,392.60 302.45,393.39 302.73,394.56 301.70,393.93 300.67,394.56 300.95,393.39 300.04,392.60 301.24,392.51" fill="#2e48a6"/>
<polygon points="312.00,362.31 312.46,363.42 313.66,363.52 312.75,364.30 313.03,365.47 312.00,364.84 310.97,365.47 311.25,364.30 310.34,363.52 311.54,363.42" fill="#6a45a0"/>
<polygon points="315.00,362.31 315.46,363.42 316.66,363.52 315.75,364.30 316.03,365.47 315.00,364.84 313.97,365.47 314.25,364.30 313.34,363.52 314.54,363.42" fill="#6a45a0"/>
<polygon points="318.00,362.31 318.46,363.42 319.66,363.52 318.75,364.30 319.03,365.47 318.00,364.84 316.97,365.47 317.25,364.30 316.34,363.52 317.54,363.42" fill="#6a45a0"/>
<polygon points="313.50,410.98 313.96,412.09 315.16,412.19 314.25,412.97 314.53,414.14 313.50,413.52 312.47,414.14 312.75,412.97 311.84,412.19 313.04,412.09" fill="#2e48a6"/>
<polygon points="316.50,410.98 316.96,412.09 318.16,412.19 317.25,412.97 317.53,414.14 316.50,413.52 315.47,414.14 315.75,412.97 314.84,412.19 316.04,412.09" fill="#2e48a6"/>
<line x1="214.20" y1="365.60" x2="222.40" y2="365.60" stroke="#ee1d25" stroke-width="0.8"/>
<circle cx="218.30" cy="365.60" r="1.95" fill="#ee1d25"/>
<text x="227.90" y="368.60" font-size="8.2" font-weight="bold" text-anchor="start" fill="#000" stroke="#000" stroke-width="0.22" >SM</text>
<line x1="214.20" y1="374.80" x2="222.40" y2="374.80" stroke="#2e48a6" stroke-width="0.8"/>
<circle cx="218.30" cy="374.80" r="1.95" fill="#2e48a6"/>
<text x="227.90" y="377.80" font-size="8.2" font-weight="bold" text-anchor="start" fill="#000" stroke="#000" stroke-width="0.22" >SQ</text>
<line x1="214.20" y1="383.20" x2="222.40" y2="383.20" stroke="#6a45a0" stroke-width="0.8"/>
<circle cx="218.30" cy="383.20" r="1.95" fill="#6a45a0"/>
<text x="227.90" y="386.20" font-size="8.2" font-weight="bold" text-anchor="start" fill="#000" stroke="#000" stroke-width="0.22" >SMQ</text>
<line x1="214.20" y1="392.20" x2="222.40" y2="392.20" stroke="#8a8a8a" stroke-width="0.8"/>
<circle cx="218.30" cy="392.20" r="1.95" fill="#8a8a8a"/>
<text x="227.90" y="395.20" font-size="8.2" font-weight="bold" text-anchor="start" fill="#000" stroke="#000" stroke-width="0.22" >SWE</text>
<text x="440.45" y="349.60" font-size="8.7" font-weight="bold" text-anchor="middle" fill="#000" textLength="29.30" lengthAdjust="spacingAndGlyphs" stroke="#000" stroke-width="0.22" >CD8 LS</text>
<text x="365.90" y="404.00" font-size="7.0" font-weight="bold" text-anchor="middle" fill="#000" textLength="52.30" lengthAdjust="spacingAndGlyphs" stroke="#000" stroke-width="0.22" transform="rotate(-90 365.90 404.00)" >% of CD8+ cells</text>
<path d="M377.50 360.50 V447.50 H503.00" fill="none" stroke="#2a2a2a" stroke-width="1.25"/>
<line x1="374.30" y1="447.50" x2="377.50" y2="447.50" stroke="#2a2a2a" stroke-width="1.25"/>
<text x="372.90" y="449.50" font-size="6.9" font-weight="bold" text-anchor="end" fill="#000" stroke="#000" stroke-width="0.22" >0</text>
<line x1="374.30" y1="418.50" x2="377.50" y2="418.50" stroke="#2a2a2a" stroke-width="1.25"/>
<text x="372.90" y="420.70" font-size="6.9" font-weight="bold" text-anchor="end" fill="#000" stroke="#000" stroke-width="0.22" >1</text>
<line x1="374.30" y1="389.50" x2="377.50" y2="389.50" stroke="#2a2a2a" stroke-width="1.25"/>
<text x="372.90" y="391.90" font-size="6.9" font-weight="bold" text-anchor="end" fill="#000" stroke="#000" stroke-width="0.22" >2</text>
<line x1="374.30" y1="360.50" x2="377.50" y2="360.50" stroke="#2a2a2a" stroke-width="1.25"/>
<text x="372.90" y="363.10" font-size="6.9" font-weight="bold" text-anchor="end" fill="#000" stroke="#000" stroke-width="0.22" >3</text>
<line x1="398.50" y1="447.50" x2="398.50" y2="450.90" stroke="#2a2a2a" stroke-width="1.25"/>
<line x1="419.50" y1="447.50" x2="419.50" y2="450.90" stroke="#2a2a2a" stroke-width="1.25"/>
<line x1="440.50" y1="447.50" x2="440.50" y2="450.90" stroke="#2a2a2a" stroke-width="1.25"/>
<line x1="461.50" y1="447.50" x2="461.50" y2="450.90" stroke="#2a2a2a" stroke-width="1.25"/>
<line x1="481.50" y1="447.50" x2="481.50" y2="450.90" stroke="#2a2a2a" stroke-width="1.25"/>
<line x1="502.50" y1="447.50" x2="502.50" y2="450.90" stroke="#2a2a2a" stroke-width="1.25"/>
<path d="M383.80 463.20 Q439.80 459.00 475.80 456.30 H504.40 V463.20 Z" fill="#000"/>
<text x="440.90" y="476.20" font-size="7.0" font-weight="bold" text-anchor="middle" fill="#000" textLength="76.20" lengthAdjust="spacingAndGlyphs" stroke="#000" stroke-width="0.22" >Adjuvant Concentration</text>
<text x="503.50" y="472.00" font-size="7.0" font-weight="bold" text-anchor="middle" fill="#000" textLength="9.40" lengthAdjust="spacingAndGlyphs" stroke="#000" stroke-width="0.22" >No</text>
<text x="503.50" y="481.00" font-size="7.0" font-weight="bold" text-anchor="middle" fill="#000" textLength="23.50" lengthAdjust="spacingAndGlyphs" stroke="#000" stroke-width="0.22" >antigen</text>
<path d="M417.60 439.22 V438.36 M415.50 438.36 H419.70" stroke="#2e48a6" stroke-width="0.6" fill="none" opacity="0.9"/>
<path d="M434.00 439.51 V438.36 M431.90 438.36 H436.10" stroke="#2e48a6" stroke-width="0.6" fill="none" opacity="0.9"/>
<path d="M450.30 435.19 V428.86 M448.20 428.86 H452.40" stroke="#2e48a6" stroke-width="0.6" fill="none" opacity="0.9"/>
<path d="M466.00 426.26 V412.44 M463.90 412.44 H468.10" stroke="#2e48a6" stroke-width="0.6" fill="none" opacity="0.9"/>
<path d="M482.40 402.07 V387.38 M480.30 387.38 H484.50" stroke="#2e48a6" stroke-width="0.6" fill="none" opacity="0.9"/>
<polyline points="377.80,442.39 417.60,439.22 434.00,439.51 450.30,435.19 466.00,426.26 482.40,402.07" fill="none" stroke="#2e48a6" stroke-width="0.7" opacity="0.85"/>
<circle cx="377.80" cy="442.39" r="1.95" fill="#2e48a6"/>
<circle cx="417.60" cy="439.22" r="1.95" fill="#2e48a6"/>
<circle cx="434.00" cy="439.51" r="1.95" fill="#2e48a6"/>
<circle cx="450.30" cy="435.19" r="1.95" fill="#2e48a6"/>
<circle cx="466.00" cy="426.26" r="1.95" fill="#2e48a6"/>
<circle cx="482.40" cy="402.07" r="1.95" fill="#2e48a6"/>
<path d="M417.60 436.06 V432.31 M415.50 432.31 H419.70" stroke="#6a45a0" stroke-width="0.6" fill="none" opacity="0.9"/>
<path d="M434.00 438.07 V436.34 M431.90 436.34 H436.10" stroke="#6a45a0" stroke-width="0.6" fill="none" opacity="0.9"/>
<path d="M450.30 439.22 V438.36 M448.20 438.36 H452.40" stroke="#6a45a0" stroke-width="0.6" fill="none" opacity="0.9"/>
<path d="M466.00 417.34 V404.09 M463.90 404.09 H468.10" stroke="#6a45a0" stroke-width="0.6" fill="none" opacity="0.9"/>
<path d="M482.40 383.93 V375.00 M480.30 375.00 H484.50" stroke="#6a45a0" stroke-width="0.6" fill="none" opacity="0.9"/>
<polyline points="377.80,442.39 417.60,436.06 434.00,438.07 450.30,439.22 466.00,417.34 482.40,383.93" fill="none" stroke="#6a45a0" stroke-width="0.7" opacity="0.85"/>
<circle cx="377.80" cy="442.39" r="1.95" fill="#6a45a0"/>
<circle cx="417.60" cy="436.06" r="1.95" fill="#6a45a0"/>
<circle cx="434.00" cy="438.07" r="1.95" fill="#6a45a0"/>
<circle cx="450.30" cy="439.22" r="1.95" fill="#6a45a0"/>
<circle cx="466.00" cy="417.34" r="1.95" fill="#6a45a0"/>
<circle cx="482.40" cy="383.93" r="1.95" fill="#6a45a0"/>
<path d="M377.80 442.39 V438.94 M375.70 438.94 H379.90" stroke="#ee1d25" stroke-width="0.6" fill="none" opacity="0.9"/>
<path d="M482.40 436.63 V430.58 M480.30 430.58 H484.50" stroke="#ee1d25" stroke-width="0.6" fill="none" opacity="0.9"/>
<polyline points="377.80,442.39 417.60,444.41 434.00,444.98 450.30,445.27 466.00,444.98 482.40,436.63" fill="none" stroke="#ee1d25" stroke-width="0.7" opacity="0.85"/>
<circle cx="377.80" cy="442.39" r="1.95" fill="#ee1d25"/>
<circle cx="417.60" cy="444.41" r="1.95" fill="#ee1d25"/>
<circle cx="434.00" cy="444.98" r="1.95" fill="#ee1d25"/>
<circle cx="450.30" cy="445.27" r="1.95" fill="#ee1d25"/>
<circle cx="466.00" cy="444.98" r="1.95" fill="#ee1d25"/>
<circle cx="482.40" cy="436.63" r="1.95" fill="#ee1d25"/>
<circle cx="503.90" cy="431.16" r="1.95" fill="#ee1d25"/>
<circle cx="504.30" cy="436.63" r="1.95" fill="#6a45a0"/>
<circle cx="503.90" cy="435.77" r="1.95" fill="#2e48a6"/>
<polygon points="465.20,399.75 465.66,400.86 466.86,400.96 465.95,401.74 466.23,402.91 465.20,402.28 464.17,402.91 464.45,401.74 463.54,400.96 464.74,400.86" fill="#6a45a0"/>
<polygon points="468.20,399.75 468.66,400.86 469.86,400.96 468.95,401.74 469.23,402.91 468.20,402.28 467.17,402.91 467.45,401.74 466.54,400.96 467.74,400.86" fill="#6a45a0"/>
<polygon points="480.10,366.34 480.56,367.45 481.76,367.55 480.85,368.33 481.13,369.50 480.10,368.88 479.07,369.50 479.35,368.33 478.44,367.55 479.64,367.45" fill="#6a45a0"/>
<polygon points="483.10,366.34 483.56,367.45 484.76,367.55 483.85,368.33 484.13,369.50 483.10,368.88 482.07,369.50 482.35,368.33 481.44,367.55 482.64,367.45" fill="#6a45a0"/>
<polygon points="486.10,366.34 486.56,367.45 487.76,367.55 486.85,368.33 487.13,369.50 486.10,368.88 485.07,369.50 485.35,368.33 484.44,367.55 485.64,367.45" fill="#6a45a0"/>
<polygon points="480.10,370.08 480.56,371.19 481.76,371.29 480.85,372.08 481.13,373.25 480.10,372.62 479.07,373.25 479.35,372.08 478.44,371.29 479.64,371.19" fill="#2e48a6"/>
<polygon points="483.10,370.08 483.56,371.19 484.76,371.29 483.85,372.08 484.13,373.25 483.10,372.62 482.07,373.25 482.35,372.08 481.44,371.29 482.64,371.19" fill="#2e48a6"/>
<polygon points="486.10,370.08 486.56,371.19 487.76,371.29 486.85,372.08 487.13,373.25 486.10,372.62 485.07,373.25 485.35,372.08 484.44,371.29 485.64,371.19" fill="#2e48a6"/>
<line x1="383.30" y1="363.60" x2="392.50" y2="363.60" stroke="#ee1d25" stroke-width="0.8"/>
<circle cx="387.90" cy="363.60" r="1.95" fill="#ee1d25"/>
<text x="397.60" y="366.60" font-size="8.2" font-weight="bold" text-anchor="start" fill="#000" stroke="#000" stroke-width="0.22" >LM</text>
<line x1="383.30" y1="372.80" x2="392.50" y2="372.80" stroke="#6a45a0" stroke-width="0.8"/>
<circle cx="387.90" cy="372.80" r="1.95" fill="#6a45a0"/>
<text x="397.60" y="375.80" font-size="8.2" font-weight="bold" text-anchor="start" fill="#000" stroke="#000" stroke-width="0.22" >LMQ</text>
<line x1="383.30" y1="381.60" x2="392.50" y2="381.60" stroke="#2e48a6" stroke-width="0.8"/>
<circle cx="387.90" cy="381.60" r="1.95" fill="#2e48a6"/>
<text x="397.60" y="384.60" font-size="8.2" font-weight="bold" text-anchor="start" fill="#000" stroke="#000" stroke-width="0.22" >LQ</text>
<text x="609.15" y="349.60" font-size="8.7" font-weight="bold" text-anchor="middle" fill="#000" textLength="39.10" lengthAdjust="spacingAndGlyphs" stroke="#000" stroke-width="0.22" >CD8 other</text>
<text x="534.00" y="404.00" font-size="7.0" font-weight="bold" text-anchor="middle" fill="#000" textLength="52.30" lengthAdjust="spacingAndGlyphs" stroke="#000" stroke-width="0.22" transform="rotate(-90 534.00 404.00)" >% of CD8+ cells</text>
<path d="M546.50 360.50 V447.50 H670.50" fill="none" stroke="#2a2a2a" stroke-width="1.25"/>
<line x1="543.30" y1="447.50" x2="546.50" y2="447.50" stroke="#2a2a2a" stroke-width="1.25"/>
<text x="541.70" y="449.50" font-size="6.9" font-weight="bold" text-anchor="end" fill="#000" stroke="#000" stroke-width="0.22" >0</text>
<line x1="543.30" y1="418.50" x2="546.50" y2="418.50" stroke="#2a2a2a" stroke-width="1.25"/>
<text x="541.70" y="420.70" font-size="6.9" font-weight="bold" text-anchor="end" fill="#000" stroke="#000" stroke-width="0.22" >1</text>
<line x1="543.30" y1="389.50" x2="546.50" y2="389.50" stroke="#2a2a2a" stroke-width="1.25"/>
<text x="541.70" y="391.90" font-size="6.9" font-weight="bold" text-anchor="end" fill="#000" stroke="#000" stroke-width="0.22" >2</text>
<line x1="543.30" y1="360.50" x2="546.50" y2="360.50" stroke="#2a2a2a" stroke-width="1.25"/>
<text x="541.70" y="363.10" font-size="6.9" font-weight="bold" text-anchor="end" fill="#000" stroke="#000" stroke-width="0.22" >3</text>
<line x1="566.50" y1="447.50" x2="566.50" y2="450.90" stroke="#2a2a2a" stroke-width="1.25"/>
<line x1="587.50" y1="447.50" x2="587.50" y2="450.90" stroke="#2a2a2a" stroke-width="1.25"/>
<line x1="608.50" y1="447.50" x2="608.50" y2="450.90" stroke="#2a2a2a" stroke-width="1.25"/>
<line x1="629.50" y1="447.50" x2="629.50" y2="450.90" stroke="#2a2a2a" stroke-width="1.25"/>
<line x1="649.50" y1="447.50" x2="649.50" y2="450.90" stroke="#2a2a2a" stroke-width="1.25"/>
<line x1="670.50" y1="447.50" x2="670.50" y2="450.90" stroke="#2a2a2a" stroke-width="1.25"/>
<path d="M552.30 463.20 Q608.55 459.00 644.80 456.30 H672.30 V463.20 Z" fill="#000"/>
<text x="608.80" y="476.20" font-size="7.0" font-weight="bold" text-anchor="middle" fill="#000" textLength="76.20" lengthAdjust="spacingAndGlyphs" stroke="#000" stroke-width="0.22" >Adjuvant Concentration</text>
<text x="671.50" y="476.30" font-size="7.0" font-weight="bold" text-anchor="middle" fill="#000" textLength="9.40" lengthAdjust="spacingAndGlyphs" stroke="#000" stroke-width="0.22" >No</text>
<text x="671.50" y="485.30" font-size="7.0" font-weight="bold" text-anchor="middle" fill="#000" textLength="23.50" lengthAdjust="spacingAndGlyphs" stroke="#000" stroke-width="0.22" >antigen</text>
<path d="M546.40 440.66 V436.34 M544.30 436.34 H548.50" stroke="#d560c0" stroke-width="0.6" fill="none" opacity="0.9"/>
<path d="M597.20 442.39 V438.36 M595.10 438.36 H599.30" stroke="#d560c0" stroke-width="0.6" fill="none" opacity="0.9"/>
<polyline points="546.40,440.66 564.50,444.41 580.90,444.41 597.20,442.39 613.60,445.56 630.00,445.56" fill="none" stroke="#d560c0" stroke-width="0.7" opacity="0.85"/>
<circle cx="546.40" cy="440.66" r="1.95" fill="#d560c0"/>
<circle cx="564.50" cy="444.41" r="1.95" fill="#d560c0"/>
<circle cx="580.90" cy="444.41" r="1.95" fill="#d560c0"/>
<circle cx="597.20" cy="442.39" r="1.95" fill="#d560c0"/>
<circle cx="613.60" cy="445.56" r="1.95" fill="#d560c0"/>
<circle cx="630.00" cy="445.56" r="1.95" fill="#d560c0"/>
<path d="M586.00 443.26 V442.68 M583.90 442.68 H588.10" stroke="#f36a25" stroke-width="0.6" fill="none" opacity="0.9"/>
<path d="M634.40 444.41 V444.12 M632.30 444.12 H636.50" stroke="#f36a25" stroke-width="0.6" fill="none" opacity="0.9"/>
<path d="M651.00 439.51 V438.36 M648.90 438.36 H653.10" stroke="#f36a25" stroke-width="0.6" fill="none" opacity="0.9"/>
<polyline points="546.40,441.82 586.00,443.26 602.30,444.12 618.30,444.98 634.40,444.41 651.00,439.51" fill="none" stroke="#f36a25" stroke-width="0.7" opacity="0.85"/>
<circle cx="546.40" cy="441.82" r="1.95" fill="#f36a25"/>
<circle cx="586.00" cy="443.26" r="1.95" fill="#f36a25"/>
<circle cx="602.30" cy="444.12" r="1.95" fill="#f36a25"/>
<circle cx="618.30" cy="444.98" r="1.95" fill="#f36a25"/>
<circle cx="634.40" cy="444.41" r="1.95" fill="#f36a25"/>
<circle cx="651.00" cy="439.51" r="1.95" fill="#f36a25"/>
<polyline points="546.40,441.82 586.00,444.41 602.30,444.98 618.30,444.41 634.40,445.56 651.00,443.26" fill="none" stroke="#12884a" stroke-width="0.7" opacity="0.85"/>
<circle cx="546.40" cy="441.82" r="1.95" fill="#12884a"/>
<circle cx="586.00" cy="444.41" r="1.95" fill="#12884a"/>
<circle cx="602.30" cy="444.98" r="1.95" fill="#12884a"/>
<circle cx="618.30" cy="444.41" r="1.95" fill="#12884a"/>
<circle cx="634.40" cy="445.56" r="1.95" fill="#12884a"/>
<circle cx="651.00" cy="443.26" r="1.95" fill="#12884a"/>
<path d="M634.40 426.26 V416.47 M632.30 416.47 H636.50" stroke="#2e48a6" stroke-width="0.6" fill="none" opacity="0.9"/>
<path d="M651.00 416.47 V402.94 M648.90 402.94 H653.10" stroke="#2e48a6" stroke-width="0.6" fill="none" opacity="0.9"/>
<polyline points="546.40,441.82 586.00,445.99 602.30,445.56 618.30,445.27 634.40,426.26 651.00,416.47" fill="none" stroke="#2e48a6" stroke-width="0.7" opacity="0.85"/>
<circle cx="546.40" cy="441.82" r="1.95" fill="#2e48a6"/>
<circle cx="586.00" cy="445.99" r="1.95" fill="#2e48a6"/>
<circle cx="602.30" cy="445.56" r="1.95" fill="#2e48a6"/>
<circle cx="618.30" cy="445.27" r="1.95" fill="#2e48a6"/>
<circle cx="634.40" cy="426.26" r="1.95" fill="#2e48a6"/>
<circle cx="651.00" cy="416.47" r="1.95" fill="#2e48a6"/>
<circle cx="671.80" cy="434.62" r="1.95" fill="#d560c0"/>
<circle cx="671.80" cy="423.38" r="1.95" fill="#f36a25"/>
<circle cx="672.50" cy="436.06" r="1.95" fill="#12884a"/>
<circle cx="671.80" cy="428.57" r="1.95" fill="#2e48a6"/>
<polygon points="635.10,411.55 635.56,412.67 636.76,412.76 635.85,413.55 636.13,414.72 635.10,414.09 634.07,414.72 634.35,413.55 633.44,412.76 634.64,412.67" fill="#2e48a6"/>
<polygon points="650.20,397.15 650.66,398.27 651.86,398.36 650.95,399.15 651.23,400.32 650.20,399.69 649.17,400.32 649.45,399.15 648.54,398.36 649.74,398.27" fill="#2e48a6"/>
<polygon points="653.20,397.15 653.66,398.27 654.86,398.36 653.95,399.15 654.23,400.32 653.20,399.69 652.17,400.32 652.45,399.15 651.54,398.36 652.74,398.27" fill="#2e48a6"/>
<line x1="557.40" y1="370.30" x2="565.50" y2="370.30" stroke="#12884a" stroke-width="0.8"/>
<circle cx="561.45" cy="370.30" r="1.95" fill="#12884a"/>
<text x="571.00" y="373.30" font-size="8.2" font-weight="bold" text-anchor="start" fill="#000" stroke="#000" stroke-width="0.22" >EM</text>
<line x1="557.40" y1="379.10" x2="565.50" y2="379.10" stroke="#2e48a6" stroke-width="0.8"/>
<circle cx="561.45" cy="379.10" r="1.95" fill="#2e48a6"/>
<text x="571.00" y="382.10" font-size="8.2" font-weight="bold" text-anchor="start" fill="#000" stroke="#000" stroke-width="0.22" >AL</text>
<line x1="557.40" y1="387.70" x2="565.50" y2="387.70" stroke="#f36a25" stroke-width="0.8"/>
<circle cx="561.45" cy="387.70" r="1.95" fill="#f36a25"/>
<text x="571.00" y="390.70" font-size="8.2" font-weight="bold" text-anchor="start" fill="#000" stroke="#000" stroke-width="0.22" >dMLT</text>
<line x1="557.40" y1="396.90" x2="565.50" y2="396.90" stroke="#d560c0" stroke-width="0.8"/>
<circle cx="561.45" cy="396.90" r="1.95" fill="#d560c0"/>
<text x="571.00" y="399.90" font-size="8.2" font-weight="bold" text-anchor="start" fill="#000" stroke="#000" stroke-width="0.22" >QS-7</text>
<text x="145.55" y="506.60" font-size="14.6" font-weight="bold" text-anchor="middle" fill="#000" textLength="70.10" lengthAdjust="spacingAndGlyphs" >CD4 T Cells</text>
<line x1="101.00" y1="601.60" x2="191.00" y2="601.60" stroke="#000" stroke-width="1.5" stroke-dasharray="4.0 2.3"/>
<line x1="118.85" y1="592.80" x2="118.85" y2="670.20" stroke="#000" stroke-width="2.0"/>
<line x1="113.65" y1="592.80" x2="124.05" y2="592.80" stroke="#000" stroke-width="2.0"/>
<line x1="113.65" y1="670.20" x2="124.05" y2="670.20" stroke="#000" stroke-width="2.0"/>
<rect x="111.00" y="597.40" width="15.70" height="70.20" fill="#fff"/>
<rect x="111.00" y="597.40" width="15.70" height="70.20" fill="#5a5a5a" fill-opacity="0.78" stroke="#000" stroke-width="2.0"/>
<line x1="111.00" y1="606.50" x2="126.70" y2="606.50" stroke="#000" stroke-width="2.0"/>
<circle cx="118.60" cy="601.00" r="2.15" fill="#000"/>
<circle cx="118.60" cy="606.50" r="2.15" fill="#000"/>
<circle cx="115.50" cy="670.40" r="2.15" fill="#000"/>
<circle cx="119.50" cy="670.60" r="2.15" fill="#000"/>
<circle cx="123.00" cy="670.00" r="2.15" fill="#000"/>
<line x1="146.05" y1="597.00" x2="146.05" y2="625.50" stroke="#000" stroke-width="2.0"/>
<line x1="141.05" y1="597.00" x2="151.05" y2="597.00" stroke="#000" stroke-width="2.0"/>
<line x1="141.05" y1="625.50" x2="151.05" y2="625.50" stroke="#000" stroke-width="2.0"/>
<rect x="138.50" y="600.70" width="15.10" height="23.20" fill="#fff"/>
<rect x="138.50" y="600.70" width="15.10" height="23.20" fill="#b0b0b0" fill-opacity="0.72" stroke="#000" stroke-width="2.0"/>
<line x1="138.50" y1="606.80" x2="153.60" y2="606.80" stroke="#000" stroke-width="2.0"/>
<circle cx="145.70" cy="601.60" r="2.15" fill="#000"/>
<circle cx="145.70" cy="606.80" r="2.15" fill="#000"/>
<circle cx="141.60" cy="626.40" r="2.15" fill="#000"/>
<circle cx="146.00" cy="626.30" r="2.15" fill="#000"/>
<circle cx="149.70" cy="624.60" r="2.15" fill="#000"/>
<line x1="172.80" y1="583.90" x2="172.80" y2="616.50" stroke="#000" stroke-width="2.0"/>
<line x1="167.60" y1="583.90" x2="178.00" y2="583.90" stroke="#000" stroke-width="2.0"/>
<line x1="167.60" y1="616.50" x2="178.00" y2="616.50" stroke="#000" stroke-width="2.0"/>
<rect x="164.80" y="589.30" width="16.00" height="22.60" fill="#fff"/>
<rect x="164.80" y="589.30" width="16.00" height="22.60" fill="#c8c8c8" fill-opacity="0.68" stroke="#000" stroke-width="2.0"/>
<line x1="164.80" y1="597.60" x2="180.80" y2="597.60" stroke="#000" stroke-width="2.0"/>
<circle cx="172.60" cy="592.90" r="2.15" fill="#000"/>
<circle cx="172.60" cy="597.60" r="2.15" fill="#000"/>
<circle cx="172.60" cy="610.50" r="2.15" fill="#000"/>
<circle cx="172.60" cy="616.30" r="2.15" fill="#000"/>
<line x1="112.00" y1="601.60" x2="125.70" y2="601.60" stroke="#000" stroke-opacity="0.5" stroke-width="1.5" stroke-dasharray="4.0 2.3"/>
<line x1="139.50" y1="601.60" x2="152.60" y2="601.60" stroke="#000" stroke-opacity="0.3" stroke-width="1.5" stroke-dasharray="4.0 2.3"/>
<line x1="165.80" y1="601.60" x2="179.80" y2="601.60" stroke="#000" stroke-opacity="0.3" stroke-width="1.5" stroke-dasharray="4.0 2.3"/>
<path d="M101.00 526.40 V677.30 H191.00" fill="none" stroke="#000" stroke-width="1.6"/>
<line x1="95.50" y1="527.10" x2="101.00" y2="527.10" stroke="#000" stroke-width="1.5"/>
<line x1="95.50" y1="601.90" x2="101.00" y2="601.90" stroke="#000" stroke-width="1.5"/>
<line x1="95.50" y1="677.00" x2="101.00" y2="677.00" stroke="#000" stroke-width="1.5"/>
<line x1="118.80" y1="677.30" x2="118.80" y2="683.10" stroke="#000" stroke-width="1.5"/>
<line x1="146.00" y1="677.30" x2="146.00" y2="683.10" stroke="#000" stroke-width="1.5"/>
<line x1="172.80" y1="677.30" x2="172.80" y2="683.10" stroke="#000" stroke-width="1.5"/>
<text x="92.40" y="531.20" font-size="10.6" font-weight="bold" text-anchor="end" fill="#000" >10</text>
<text x="92.40" y="681.80" font-size="10.6" font-weight="bold" text-anchor="end" fill="#000" textLength="12.80" lengthAdjust="spacingAndGlyphs" >0.1</text>
<text x="91.60" y="606.10" font-size="11.8" font-weight="normal" text-anchor="end" fill="#000" textLength="41.60" lengthAdjust="spacingAndGlyphs" >additive1</text>
<text x="67.00" y="548.20" font-size="12.0" font-weight="bold" text-anchor="middle" fill="#000" textLength="65.00" lengthAdjust="spacingAndGlyphs" transform="rotate(-90 67.00 548.20)" >Synergistic</text>
<text x="64.40" y="656.00" font-size="12.0" font-weight="bold" text-anchor="middle" fill="#000" textLength="73.80" lengthAdjust="spacingAndGlyphs" transform="rotate(-90 64.40 656.00)" >Antagonistic</text>
<path d="M73.30 580.00 V569.80" stroke="#333" stroke-width="1.1" fill="none"/><path d="M71.60 571.90 L73.30 569.30 L75.00 571.90" stroke="#333" stroke-width="1.1" fill="none"/>
<path d="M74.00 635.50 V645.90" stroke="#333" stroke-width="1.1" fill="none"/><path d="M72.30 643.80 L74.00 646.40 L75.70 643.80" stroke="#333" stroke-width="1.1" fill="none"/>
<text x="122.30" y="693.00" font-size="11.2" font-weight="bold" text-anchor="end" fill="#000" transform="rotate(-48 122.30 693.00)" >Unformulated</text>
<text x="149.50" y="692.60" font-size="11.6" font-weight="bold" text-anchor="end" fill="#000" transform="rotate(-48 149.50 692.60)" >LS</text>
<text x="176.50" y="692.50" font-size="11.7" font-weight="bold" text-anchor="end" fill="#000" transform="rotate(-48 176.50 692.50)" >OIW</text>
<text x="335.75" y="506.60" font-size="14.6" font-weight="bold" text-anchor="middle" fill="#000" textLength="72.50" lengthAdjust="spacingAndGlyphs" >CD8 T Cells</text>
<line x1="289.00" y1="626.80" x2="383.00" y2="626.80" stroke="#000" stroke-width="1.5" stroke-dasharray="4.0 2.3"/>
<line x1="307.75" y1="624.90" x2="307.75" y2="641.20" stroke="#000" stroke-width="2.0"/>
<line x1="302.45" y1="624.90" x2="313.05" y2="624.90" stroke="#000" stroke-width="2.0"/>
<line x1="302.45" y1="641.20" x2="313.05" y2="641.20" stroke="#000" stroke-width="2.0"/>
<rect x="299.80" y="629.60" width="15.90" height="7.40" fill="#fff"/>
<rect x="299.80" y="629.60" width="15.90" height="7.40" fill="#6a6a6a" fill-opacity="0.8" stroke="#000" stroke-width="2.0"/>
<line x1="299.80" y1="633.30" x2="315.70" y2="633.30" stroke="#000" stroke-width="2.0"/>
<circle cx="307.70" cy="624.60" r="2.15" fill="#000"/>
<circle cx="312.50" cy="625.60" r="2.15" fill="#000"/>
<circle cx="307.70" cy="641.00" r="2.15" fill="#000"/>
<line x1="335.85" y1="563.00" x2="335.85" y2="639.70" stroke="#000" stroke-width="2.0"/>
<line x1="330.35" y1="563.00" x2="341.35" y2="563.00" stroke="#000" stroke-width="2.0"/>
<line x1="330.35" y1="639.70" x2="341.35" y2="639.70" stroke="#000" stroke-width="2.0"/>
<rect x="328.30" y="575.00" width="15.10" height="54.60" fill="#fff"/>
<rect x="328.30" y="575.00" width="15.10" height="54.60" fill="#bdbdbd" fill-opacity="0.72" stroke="#000" stroke-width="2.0"/>
<line x1="328.30" y1="620.50" x2="343.40" y2="620.50" stroke="#000" stroke-width="2.0"/>
<circle cx="335.90" cy="593.40" r="2.15" fill="#000"/>
<circle cx="331.80" cy="620.60" r="2.15" fill="#000"/>
<circle cx="339.90" cy="625.00" r="2.15" fill="#000"/>
<line x1="363.95" y1="543.30" x2="363.95" y2="642.00" stroke="#000" stroke-width="2.0"/>
<line x1="358.45" y1="543.30" x2="369.45" y2="543.30" stroke="#000" stroke-width="2.0"/>
<line x1="358.45" y1="642.00" x2="369.45" y2="642.00" stroke="#000" stroke-width="2.0"/>
<rect x="356.30" y="549.50" width="15.30" height="59.50" fill="#fff"/>
<rect x="356.30" y="549.50" width="15.30" height="59.50" fill="#bdbdbd" fill-opacity="0.72" stroke="#000" stroke-width="2.0"/>
<line x1="356.30" y1="587.30" x2="371.60" y2="587.30" stroke="#000" stroke-width="2.0"/>
<circle cx="364.20" cy="553.00" r="2.15" fill="#000"/>
<circle cx="364.20" cy="587.30" r="2.15" fill="#000"/>
<circle cx="364.20" cy="598.70" r="2.15" fill="#000"/>
<line x1="329.30" y1="626.80" x2="342.40" y2="626.80" stroke="#000" stroke-opacity="0.3" stroke-width="1.5" stroke-dasharray="4.0 2.3"/>
<path d="M289.00 526.40 V677.00 H383.00" fill="none" stroke="#000" stroke-width="1.6"/>
<line x1="283.50" y1="526.90" x2="289.00" y2="526.90" stroke="#000" stroke-width="1.5"/>
<line x1="283.50" y1="577.00" x2="289.00" y2="577.00" stroke="#000" stroke-width="1.5"/>
<line x1="283.50" y1="626.70" x2="289.00" y2="626.70" stroke="#000" stroke-width="1.5"/>
<line x1="283.50" y1="676.80" x2="289.00" y2="676.80" stroke="#000" stroke-width="1.5"/>
<line x1="307.60" y1="677.00" x2="307.60" y2="682.80" stroke="#000" stroke-width="1.5"/>
<line x1="335.90" y1="677.00" x2="335.90" y2="682.80" stroke="#000" stroke-width="1.5"/>
<line x1="364.20" y1="677.00" x2="364.20" y2="682.80" stroke="#000" stroke-width="1.5"/>
<text x="280.60" y="531.10" font-size="11.0" font-weight="bold" text-anchor="end" fill="#000" >100</text>
<text x="281.60" y="581.10" font-size="11.0" font-weight="bold" text-anchor="end" fill="#000" >10</text>
<text x="280.30" y="631.00" font-size="11.0" font-weight="bold" text-anchor="end" fill="#000" >1</text>
<text x="281.60" y="681.30" font-size="11.0" font-weight="bold" text-anchor="end" fill="#000" textLength="14.50" lengthAdjust="spacingAndGlyphs" >0.1</text>
<text x="269.80" y="630.80" font-size="11.4" font-weight="normal" text-anchor="end" fill="#000" textLength="38.20" lengthAdjust="spacingAndGlyphs" >additive</text>
<text x="253.50" y="565.30" font-size="12.0" font-weight="bold" text-anchor="middle" fill="#000" textLength="63.00" lengthAdjust="spacingAndGlyphs" transform="rotate(-90 253.50 565.30)" >Synergistic</text>
<text x="247.00" y="691.50" font-size="12.0" font-weight="bold" text-anchor="middle" fill="#000" textLength="73.60" lengthAdjust="spacingAndGlyphs" transform="rotate(-90 247.00 691.50)" >Antagonistic</text>
<path d="M260.40 597.20 V587.10" stroke="#333" stroke-width="1.1" fill="none"/><path d="M258.70 589.20 L260.40 586.60 L262.10 589.20" stroke="#333" stroke-width="1.1" fill="none"/>
<path d="M255.00 670.40 V680.50" stroke="#333" stroke-width="1.1" fill="none"/><path d="M253.30 678.40 L255.00 681.00 L256.70 678.40" stroke="#333" stroke-width="1.1" fill="none"/>
<text x="311.50" y="693.00" font-size="11.2" font-weight="bold" text-anchor="end" fill="#000" transform="rotate(-48 311.50 693.00)" >Unformulated</text>
<text x="339.50" y="693.60" font-size="11.6" font-weight="bold" text-anchor="end" fill="#000" transform="rotate(-48 339.50 693.60)" >LS</text>
<text x="367.50" y="693.00" font-size="11.7" font-weight="bold" text-anchor="end" fill="#000" transform="rotate(-48 367.50 693.00)" >OIW</text>
</svg>
</body></html>
